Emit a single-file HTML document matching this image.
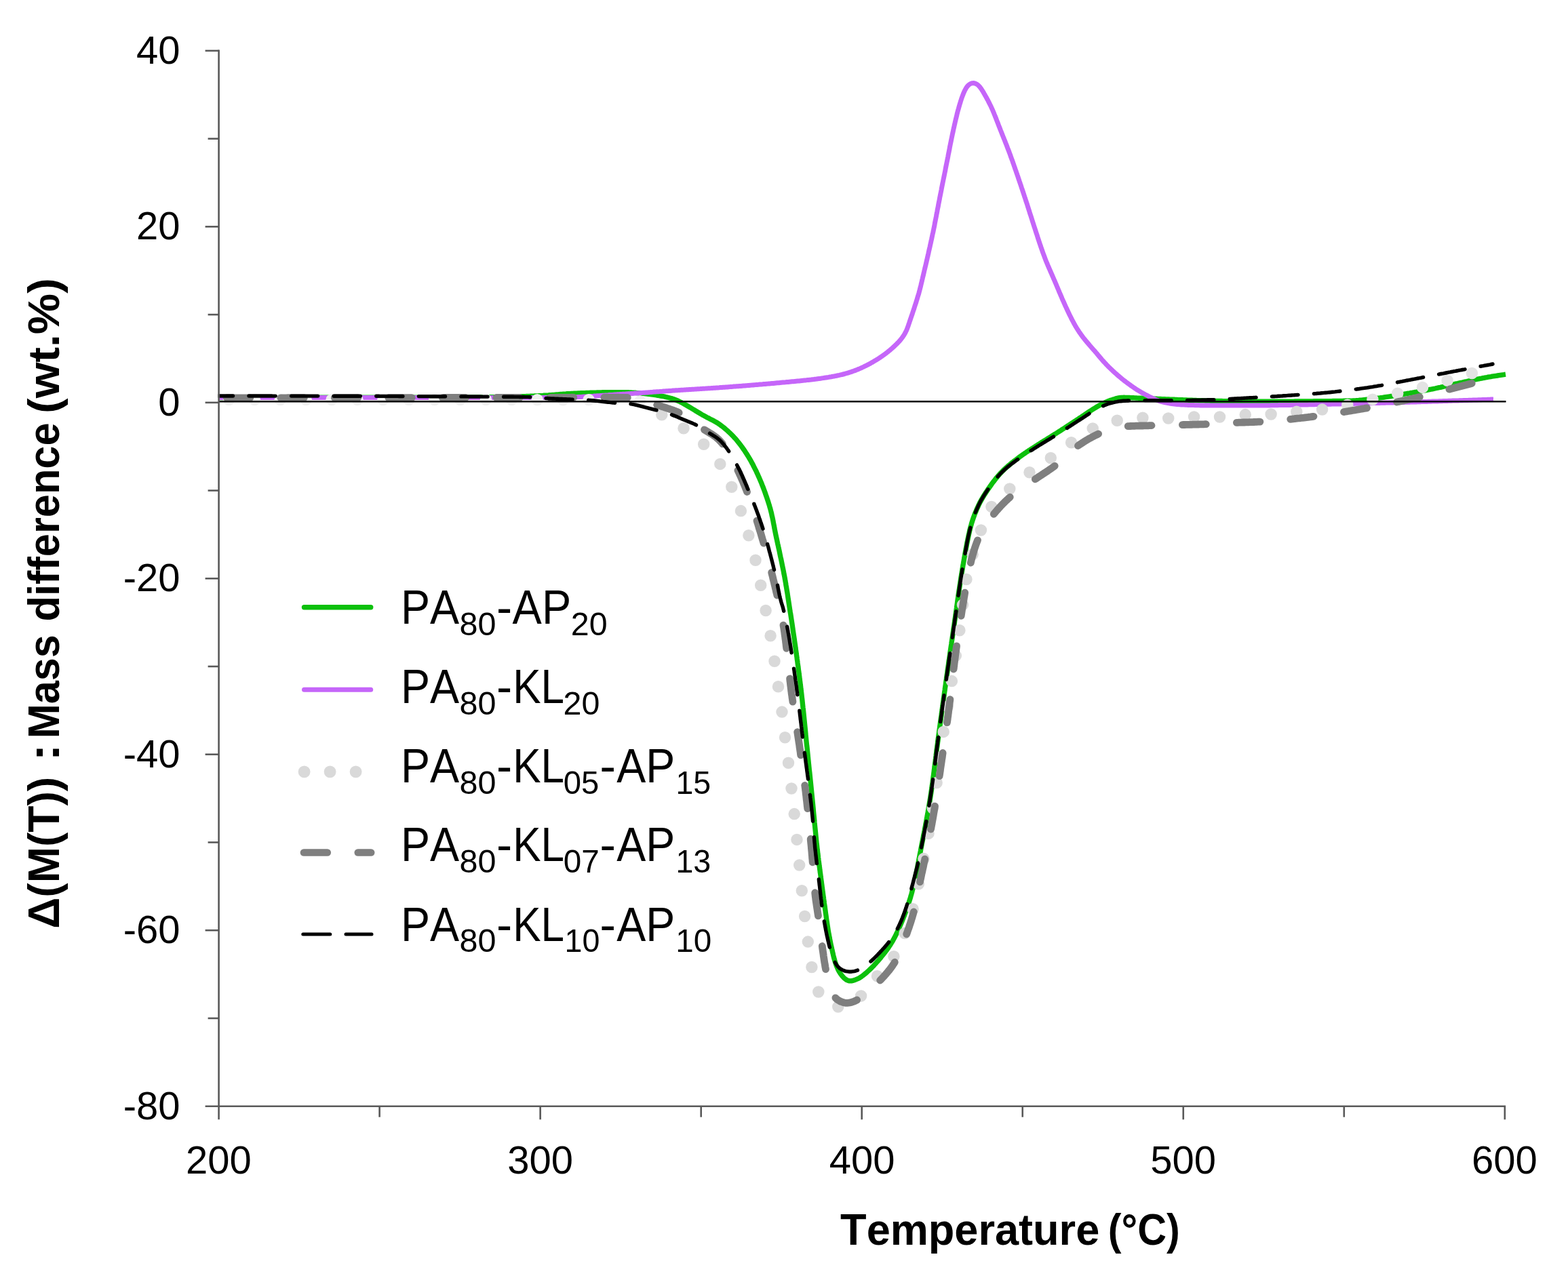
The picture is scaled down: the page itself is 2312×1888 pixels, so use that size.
<!DOCTYPE html>
<html lang="en"><head><meta charset="utf-8"><title>TGA mass difference</title>
<style>html,body{margin:0;padding:0;background:#fff}body{width:2312px;height:1888px;overflow:hidden}</style></head>
<body>
<svg xmlns="http://www.w3.org/2000/svg" width="2312" height="1888" viewBox="0 0 2312 1888" style="display:block;font-family:'Liberation Sans',sans-serif;font-kerning:none">
<rect width="2312" height="1888" fill="#fff"/>
<defs><clipPath id="plot"><rect x="321.4" y="60" width="1901.4" height="1560"/></clipPath><clipPath id="dmid"><rect x="958" y="60" width="1017" height="1560"/></clipPath><clipPath id="dleft"><rect x="300" y="60" width="658" height="1560"/></clipPath><clipPath id="dright"><rect x="1975" y="60" width="265" height="1560"/></clipPath></defs>
<g clip-path="url(#plot)">
<path d="M322.3,586.5L325.1,586.5L326.6,586.5L328.4,586.5L330.3,586.5L332.3,586.5L334.3,586.5L336.3,586.5L338.3,586.5L340.3,586.5L342.3,586.5L344.3,586.5L346.3,586.5L348.3,586.5L350.3,586.5L352.3,586.5L354.3,586.5L356.3,586.5L358.3,586.5L360.3,586.5L362.3,586.5L364.3,586.5L366.3,586.5L368.3,586.5L370.3,586.5L372.3,586.4L374.3,586.4L376.3,586.4L378.3,586.4L380.3,586.4L382.3,586.4L384.3,586.4L386.3,586.4L388.3,586.4L390.3,586.4L392.3,586.4L394.3,586.4L396.3,586.4L398.3,586.4L400.3,586.4L402.3,586.4L404.3,586.4L406.3,586.4L408.3,586.4L410.3,586.4L412.3,586.4L414.4,586.4L416.4,586.4L418.4,586.4L420.4,586.4L422.4,586.4L424.4,586.4L426.4,586.4L428.4,586.4L430.4,586.4L432.4,586.4L434.4,586.4L436.4,586.4L438.4,586.4L440.4,586.4L442.4,586.4L444.4,586.4L446.4,586.4L448.4,586.4L450.4,586.4L452.4,586.4L454.4,586.4L456.4,586.4L458.4,586.4L460.4,586.3L462.4,586.3L464.4,586.3L466.4,586.3L468.4,586.3L470.4,586.3L472.4,586.3L474.4,586.3L476.4,586.3L478.4,586.3L480.4,586.3L482.4,586.3L484.4,586.3L486.4,586.3L488.4,586.3L490.4,586.3L492.4,586.3L494.4,586.3L496.4,586.3L498.4,586.3L500.4,586.3L502.4,586.3L504.4,586.3L506.4,586.3L508.4,586.3L510.4,586.3L512.4,586.3L514.4,586.3L516.4,586.3L518.4,586.3L520.4,586.3L522.4,586.3L524.4,586.3L526.4,586.3L528.4,586.3L530.4,586.3L532.4,586.3L534.4,586.3L536.4,586.3L538.4,586.3L540.4,586.3L542.4,586.3L544.4,586.3L546.4,586.3L548.4,586.2L550.4,586.2L552.4,586.2L554.4,586.2L556.4,586.2L558.4,586.2L560.4,586.2L562.4,586.2L564.4,586.2L566.4,586.2L568.4,586.2L570.4,586.2L572.4,586.2L574.4,586.2L576.4,586.2L578.4,586.2L580.4,586.2L582.4,586.2L584.4,586.2L586.4,586.2L588.4,586.2L590.4,586.2L592.4,586.2L594.5,586.2L596.5,586.2L598.5,586.2L600.5,586.2L602.5,586.2L604.5,586.2L606.5,586.2L608.5,586.2L610.5,586.2L612.5,586.2L614.5,586.2L616.5,586.2L618.5,586.2L620.5,586.2L622.5,586.2L624.5,586.2L626.5,586.2L628.5,586.2L630.5,586.2L632.5,586.2L634.5,586.2L636.5,586.1L638.5,586.1L640.5,586.1L642.5,586.1L644.5,586.1L646.5,586.1L648.5,586.1L650.5,586.1L652.5,586.1L654.5,586.1L656.5,586.1L658.5,586.1L660.5,586.1L662.5,586.1L664.5,586.1L666.5,586.1L668.5,586.1L670.5,586.1L672.5,586.1L674.5,586.1L676.5,586.1L678.5,586.1L680.5,586.1L682.5,586.1L684.5,586.0L686.5,586.0L688.5,586.0L690.5,586.0L692.5,586.0L694.5,586.0L696.5,586.0L698.5,586.0L700.5,586.0L702.5,586.0L704.5,586.0L706.5,586.0L708.5,585.9L710.5,585.9L712.5,585.9L714.5,585.9L716.5,585.9L718.5,585.8L720.5,585.8L722.5,585.8L724.5,585.7L726.5,585.7L728.5,585.7L730.5,585.6L732.5,585.6L734.5,585.6L736.5,585.5L738.5,585.5L740.5,585.4L742.5,585.4L744.5,585.4L746.5,585.3L748.5,585.3L750.5,585.2L752.5,585.2L754.5,585.1L756.5,585.1L758.5,585.0L760.5,585.0L762.5,584.9L764.5,584.9L766.5,584.8L768.5,584.8L770.5,584.7L772.5,584.6L774.5,584.6L776.5,584.5L778.5,584.4L780.5,584.4L782.5,584.3L784.5,584.2L786.5,584.1L788.5,584.0L790.5,583.9L792.5,583.9L794.5,583.8L796.5,583.7L798.5,583.6L800.5,583.5L802.5,583.3L804.5,583.2L806.5,583.1L808.5,583.0L810.5,582.8L812.5,582.7L814.5,582.5L816.5,582.4L818.5,582.2L820.5,582.0L822.5,581.9L824.5,581.7L826.5,581.5L828.5,581.4L830.5,581.2L832.5,581.1L834.5,581.0L836.4,580.8L838.4,580.7L840.4,580.6L842.4,580.5L844.4,580.4L846.4,580.3L848.4,580.2L850.4,580.1L852.4,580.0L854.4,579.9L856.4,579.8L858.4,579.7L860.4,579.6L862.4,579.6L864.4,579.5L866.4,579.4L868.4,579.4L870.4,579.3L872.4,579.2L874.4,579.2L876.4,579.1L878.4,579.1L880.4,579.0L882.4,578.9L884.4,578.9L886.4,578.9L888.4,578.8L890.4,578.8L892.4,578.7L894.4,578.7L896.4,578.7L898.4,578.7L900.4,578.7L902.4,578.7L904.4,578.6L906.4,578.6L908.4,578.6L910.4,578.6L912.4,578.6L914.4,578.6L916.5,578.6L918.5,578.6L920.5,578.6L922.5,578.7L924.5,578.7L926.5,578.8L928.4,578.9L930.4,579.0L932.4,579.1L934.4,579.2L936.4,579.3L938.4,579.5L940.4,579.6L942.4,579.8L944.4,580.0L946.4,580.2L948.4,580.3L950.4,580.5L952.4,580.8L954.4,581.0L956.4,581.3L958.3,581.5L960.3,581.8L962.3,582.1L964.3,582.3L966.3,582.6L968.2,583.0L970.2,583.3L972.2,583.6L974.2,584.0L976.1,584.3L978.1,584.7L980.1,585.1L982.0,585.6L984.0,586.0L985.9,586.5L987.8,587.0L989.8,587.5L991.7,588.1L993.6,588.8L995.4,589.5L997.3,590.2L999.1,591.0L1001.0,591.8L1002.8,592.7L1004.6,593.6L1006.3,594.5L1008.1,595.5L1009.8,596.5L1011.6,597.5L1013.3,598.5L1015.0,599.5L1016.7,600.5L1018.5,601.5L1020.2,602.6L1021.9,603.6L1023.6,604.6L1025.3,605.7L1027.0,606.7L1028.7,607.8L1030.4,608.8L1032.1,609.8L1033.9,610.9L1035.6,611.9L1037.3,612.8L1039.1,613.8L1040.9,614.8L1042.6,615.7L1044.4,616.6L1046.2,617.6L1048.0,618.5L1049.8,619.4L1051.6,620.3L1053.3,621.3L1055.1,622.3L1056.8,623.3L1058.5,624.3L1060.1,625.4L1061.7,626.5L1063.3,627.7L1064.9,628.9L1066.5,630.1L1068.1,631.4L1069.6,632.7L1071.1,634.0L1072.7,635.3L1074.1,636.7L1075.6,638.1L1077.1,639.5L1078.5,640.9L1079.9,642.3L1081.3,643.8L1082.6,645.2L1084.0,646.7L1085.3,648.2L1086.6,649.7L1087.8,651.2L1089.1,652.8L1090.3,654.4L1091.6,656.0L1092.8,657.6L1094.0,659.2L1095.1,660.8L1096.3,662.5L1097.4,664.1L1098.5,665.8L1099.6,667.5L1100.7,669.2L1101.8,670.8L1102.8,672.5L1103.9,674.2L1104.9,676.0L1105.9,677.7L1106.9,679.4L1107.9,681.2L1108.8,683.0L1109.8,684.7L1110.7,686.5L1111.6,688.3L1112.5,690.1L1113.4,691.9L1114.3,693.6L1115.2,695.4L1116.0,697.3L1116.9,699.1L1117.7,700.9L1118.5,702.7L1119.3,704.5L1120.1,706.4L1120.9,708.2L1121.7,710.1L1122.5,711.9L1123.2,713.8L1123.9,715.6L1124.7,717.5L1125.4,719.4L1126.1,721.3L1126.8,723.1L1127.5,725.0L1128.2,726.9L1128.8,728.8L1129.5,730.7L1130.2,732.6L1130.8,734.4L1131.4,736.3L1132.1,738.3L1132.7,740.2L1133.3,742.1L1133.9,744.0L1134.5,745.9L1135.0,747.8L1135.6,749.7L1136.1,751.7L1136.6,753.6L1137.1,755.5L1137.6,757.5L1138.0,759.4L1138.4,761.4L1138.9,763.3L1139.3,765.3L1139.7,767.2L1140.1,769.2L1140.4,771.2L1140.8,773.1L1141.2,775.1L1141.6,777.1L1141.9,779.1L1142.3,781.0L1142.7,783.0L1143.1,785.0L1143.5,786.9L1143.9,788.9L1144.3,790.8L1144.7,792.8L1145.1,794.7L1145.6,796.7L1146.0,798.7L1146.4,800.6L1146.8,802.6L1147.3,804.5L1147.7,806.5L1148.1,808.4L1148.6,810.4L1149.0,812.3L1149.4,814.3L1149.8,816.3L1150.2,818.2L1150.6,820.2L1151.0,822.1L1151.5,824.1L1151.9,826.1L1152.3,828.0L1152.7,830.0L1153.1,831.9L1153.5,833.9L1153.9,835.9L1154.3,837.8L1154.7,839.8L1155.1,841.7L1155.5,843.7L1155.8,845.7L1156.2,847.6L1156.6,849.6L1157.0,851.6L1157.3,853.5L1157.7,855.5L1158.0,857.5L1158.4,859.4L1158.7,861.4L1159.0,863.4L1159.4,865.4L1159.7,867.3L1160.0,869.3L1160.3,871.3L1160.7,873.3L1161.0,875.2L1161.3,877.2L1161.6,879.2L1161.9,881.2L1162.2,883.1L1162.5,885.1L1162.8,887.1L1163.1,889.1L1163.4,891.1L1163.7,893.0L1164.0,895.0L1164.3,897.0L1164.6,899.0L1164.9,900.9L1165.2,902.9L1165.6,904.9L1165.9,906.9L1166.2,908.9L1166.5,910.8L1166.8,912.8L1167.1,914.8L1167.4,916.8L1167.7,918.8L1168.0,920.7L1168.3,922.7L1168.6,924.7L1168.8,926.7L1169.1,928.6L1169.4,930.6L1169.7,932.6L1170.0,934.6L1170.3,936.6L1170.6,938.5L1170.9,940.5L1171.2,942.5L1171.5,944.5L1171.7,946.5L1172.0,948.4L1172.3,950.4L1172.6,952.4L1172.9,954.4L1173.1,956.4L1173.4,958.4L1173.7,960.3L1174.0,962.3L1174.2,964.3L1174.5,966.3L1174.8,968.3L1175.1,970.3L1175.3,972.2L1175.6,974.2L1175.9,976.2L1176.1,978.2L1176.4,980.2L1176.7,982.2L1176.9,984.1L1177.2,986.1L1177.4,988.1L1177.7,990.1L1178.0,992.1L1178.2,994.1L1178.5,996.0L1178.7,998.0L1179.0,1000.0L1179.2,1002.0L1179.5,1004.0L1179.7,1006.0L1180.0,1008.0L1180.2,1009.9L1180.5,1011.9L1180.7,1013.9L1180.9,1015.9L1181.2,1017.9L1181.4,1019.9L1181.6,1021.9L1181.9,1023.9L1182.1,1025.8L1182.3,1027.8L1182.5,1029.8L1182.8,1031.8L1183.0,1033.8L1183.2,1035.8L1183.4,1037.8L1183.6,1039.8L1183.8,1041.7L1184.0,1043.7L1184.3,1045.7L1184.5,1047.7L1184.7,1049.7L1184.9,1051.7L1185.1,1053.7L1185.3,1055.7L1185.5,1057.7L1185.7,1059.7L1185.9,1061.7L1186.1,1063.6L1186.3,1065.6L1186.5,1067.6L1186.7,1069.6L1186.9,1071.6L1187.1,1073.6L1187.3,1075.6L1187.5,1077.6L1187.7,1079.6L1187.8,1081.6L1188.0,1083.6L1188.2,1085.6L1188.4,1087.5L1188.6,1089.5L1188.8,1091.5L1189.0,1093.5L1189.2,1095.5L1189.4,1097.5L1189.6,1099.5L1189.9,1101.5L1190.1,1103.5L1190.3,1105.5L1190.5,1107.5L1190.7,1109.4L1190.9,1111.4L1191.1,1113.4L1191.3,1115.4L1191.5,1117.4L1191.7,1119.4L1191.9,1121.4L1192.1,1123.4L1192.3,1125.4L1192.5,1127.4L1192.7,1129.4L1192.9,1131.3L1193.1,1133.3L1193.3,1135.3L1193.5,1137.3L1193.8,1139.3L1194.0,1141.3L1194.2,1143.3L1194.4,1145.3L1194.6,1147.3L1194.8,1149.3L1195.0,1151.2L1195.2,1153.2L1195.4,1155.2L1195.6,1157.2L1195.8,1159.2L1196.0,1161.2L1196.2,1163.2L1196.4,1165.2L1196.6,1167.2L1196.8,1169.2L1197.0,1171.2L1197.2,1173.1L1197.4,1175.1L1197.6,1177.1L1197.8,1179.1L1198.0,1181.1L1198.2,1183.1L1198.4,1185.1L1198.6,1187.1L1198.8,1189.1L1199.0,1191.1L1199.2,1193.1L1199.3,1195.1L1199.5,1197.0L1199.7,1199.0L1199.9,1201.0L1200.1,1203.0L1200.3,1205.0L1200.5,1207.0L1200.7,1209.0L1200.9,1211.0L1201.0,1213.0L1201.2,1215.0L1201.4,1217.0L1201.6,1219.0L1201.8,1221.0L1202.0,1222.9L1202.2,1224.9L1202.4,1226.9L1202.6,1228.9L1202.8,1230.9L1203.0,1232.9L1203.2,1234.9L1203.4,1236.9L1203.6,1238.9L1203.8,1240.9L1204.0,1242.9L1204.2,1244.8L1204.5,1246.8L1204.7,1248.8L1204.9,1250.8L1205.1,1252.8L1205.4,1254.8L1205.6,1256.8L1205.8,1258.8L1206.1,1260.7L1206.3,1262.7L1206.5,1264.7L1206.8,1266.7L1207.0,1268.7L1207.3,1270.7L1207.5,1272.7L1207.8,1274.6L1208.0,1276.6L1208.3,1278.6L1208.6,1280.6L1208.8,1282.6L1209.1,1284.6L1209.3,1286.6L1209.6,1288.5L1209.9,1290.5L1210.1,1292.5L1210.4,1294.5L1210.6,1296.5L1210.9,1298.5L1211.2,1300.4L1211.4,1302.4L1211.7,1304.4L1211.9,1306.4L1212.2,1308.4L1212.5,1310.4L1212.7,1312.3L1213.0,1314.3L1213.3,1316.3L1213.5,1318.3L1213.8,1320.3L1214.1,1322.3L1214.4,1324.2L1214.6,1326.2L1214.9,1328.2L1215.2,1330.2L1215.4,1332.2L1215.7,1334.2L1216.0,1336.1L1216.3,1338.1L1216.5,1340.1L1216.8,1342.1L1217.1,1344.1L1217.3,1346.1L1217.6,1348.0L1217.9,1350.0L1218.2,1352.0L1218.4,1354.0L1218.7,1356.0L1219.0,1358.0L1219.3,1359.9L1219.6,1361.9L1219.9,1363.9L1220.2,1365.9L1220.5,1367.8L1220.8,1369.8L1221.1,1371.8L1221.4,1373.8L1221.8,1375.7L1222.1,1377.7L1222.5,1379.7L1222.9,1381.6L1223.2,1383.6L1223.6,1385.6L1224.0,1387.5L1224.4,1389.5L1224.8,1391.5L1225.2,1393.4L1225.6,1395.4L1226.1,1397.3L1226.5,1399.3L1226.9,1401.2L1227.4,1403.2L1227.8,1405.2L1228.3,1407.1L1228.7,1409.1L1229.2,1411.0L1229.7,1413.0L1230.2,1414.9L1230.8,1416.8L1231.4,1418.8L1232.0,1420.6L1232.6,1422.5L1233.3,1424.4L1234.1,1426.3L1234.9,1428.1L1235.7,1430.0L1236.6,1431.8L1237.6,1433.6L1238.7,1435.3L1239.8,1436.9L1241.0,1438.5L1242.2,1440.1L1243.6,1441.6L1245.1,1443.0L1246.7,1444.3L1248.3,1445.4L1250.1,1446.2L1251.8,1446.7L1253.7,1446.9L1255.5,1446.8L1257.4,1446.4L1259.3,1445.9L1261.2,1445.2L1263.1,1444.4L1264.9,1443.6L1266.7,1442.7L1268.4,1441.7L1270.1,1440.6L1271.7,1439.4L1273.3,1438.2L1274.9,1436.9L1276.4,1435.6L1278.0,1434.3L1279.5,1432.9L1280.9,1431.6L1282.4,1430.2L1283.9,1428.8L1285.3,1427.4L1286.7,1426.0L1288.1,1424.6L1289.4,1423.1L1290.8,1421.6L1292.1,1420.1L1293.5,1418.6L1294.8,1417.1L1296.1,1415.6L1297.4,1414.0L1298.7,1412.5L1299.9,1410.9L1301.2,1409.4L1302.4,1407.8L1303.7,1406.2L1304.9,1404.7L1306.1,1403.1L1307.3,1401.5L1308.5,1399.8L1309.7,1398.2L1310.8,1396.5L1311.9,1394.9L1313.0,1393.2L1314.0,1391.5L1315.1,1389.8L1316.1,1388.1L1317.1,1386.4L1318.0,1384.6L1319.0,1382.9L1319.9,1381.1L1320.8,1379.3L1321.7,1377.5L1322.6,1375.7L1323.4,1373.9L1324.3,1372.0L1325.1,1370.2L1325.9,1368.4L1326.7,1366.6L1327.5,1364.7L1328.3,1362.9L1329.1,1361.0L1329.9,1359.2L1330.6,1357.3L1331.4,1355.5L1332.1,1353.6L1332.9,1351.8L1333.6,1349.9L1334.3,1348.0L1335.0,1346.1L1335.7,1344.3L1336.3,1342.4L1337.0,1340.5L1337.6,1338.6L1338.3,1336.7L1338.9,1334.8L1339.6,1332.9L1340.2,1331.0L1340.8,1329.1L1341.4,1327.2L1342.0,1325.3L1342.6,1323.4L1343.1,1321.4L1343.7,1319.5L1344.2,1317.6L1344.7,1315.7L1345.2,1313.7L1345.7,1311.8L1346.2,1309.8L1346.7,1307.9L1347.1,1305.9L1347.6,1304.0L1348.0,1302.0L1348.4,1300.1L1348.8,1298.1L1349.2,1296.2L1349.7,1294.2L1350.1,1292.2L1350.5,1290.3L1350.9,1288.3L1351.3,1286.4L1351.7,1284.4L1352.1,1282.4L1352.5,1280.5L1352.8,1278.5L1353.2,1276.5L1353.6,1274.6L1354.0,1272.6L1354.4,1270.7L1354.7,1268.7L1355.1,1266.7L1355.5,1264.8L1355.9,1262.8L1356.2,1260.8L1356.6,1258.9L1357.0,1256.9L1357.4,1254.9L1357.7,1253.0L1358.1,1251.0L1358.5,1249.0L1358.9,1247.1L1359.2,1245.1L1359.6,1243.1L1360.0,1241.2L1360.4,1239.2L1360.8,1237.2L1361.2,1235.3L1361.5,1233.3L1361.9,1231.3L1362.3,1229.4L1362.7,1227.4L1363.1,1225.4L1363.4,1223.5L1363.8,1221.5L1364.2,1219.5L1364.6,1217.6L1364.9,1215.6L1365.3,1213.6L1365.7,1211.7L1366.0,1209.7L1366.4,1207.7L1366.8,1205.8L1367.1,1203.8L1367.5,1201.8L1367.8,1199.9L1368.2,1197.9L1368.5,1195.9L1368.9,1194.0L1369.2,1192.0L1369.5,1190.0L1369.9,1188.0L1370.2,1186.1L1370.5,1184.1L1370.9,1182.1L1371.2,1180.1L1371.5,1178.2L1371.8,1176.2L1372.1,1174.2L1372.4,1172.2L1372.7,1170.3L1373.0,1168.3L1373.3,1166.3L1373.6,1164.3L1373.9,1162.3L1374.1,1160.4L1374.4,1158.4L1374.7,1156.4L1375.0,1154.4L1375.2,1152.4L1375.5,1150.5L1375.8,1148.5L1376.0,1146.5L1376.3,1144.5L1376.6,1142.5L1376.8,1140.5L1377.1,1138.6L1377.3,1136.6L1377.6,1134.6L1377.8,1132.6L1378.1,1130.6L1378.3,1128.6L1378.6,1126.6L1378.8,1124.7L1379.1,1122.7L1379.3,1120.7L1379.6,1118.7L1379.8,1116.7L1380.1,1114.7L1380.3,1112.7L1380.6,1110.8L1380.8,1108.8L1381.1,1106.8L1381.3,1104.8L1381.6,1102.8L1381.9,1100.8L1382.1,1098.8L1382.4,1096.9L1382.6,1094.9L1382.9,1092.9L1383.1,1090.9L1383.4,1088.9L1383.7,1086.9L1383.9,1084.9L1384.2,1083.0L1384.5,1081.0L1384.7,1079.0L1385.0,1077.0L1385.3,1075.0L1385.6,1073.1L1385.8,1071.1L1386.1,1069.1L1386.4,1067.1L1386.6,1065.1L1386.9,1063.1L1387.2,1061.2L1387.4,1059.2L1387.7,1057.2L1388.0,1055.2L1388.2,1053.2L1388.5,1051.2L1388.8,1049.3L1389.1,1047.3L1389.3,1045.3L1389.6,1043.3L1389.9,1041.3L1390.1,1039.3L1390.4,1037.4L1390.7,1035.4L1391.0,1033.4L1391.2,1031.4L1391.5,1029.4L1391.8,1027.4L1392.1,1025.5L1392.3,1023.5L1392.6,1021.5L1392.9,1019.5L1393.2,1017.5L1393.4,1015.6L1393.7,1013.6L1394.0,1011.6L1394.3,1009.6L1394.5,1007.6L1394.8,1005.6L1395.1,1003.7L1395.4,1001.7L1395.6,999.7L1395.9,997.7L1396.2,995.7L1396.5,993.8L1396.8,991.8L1397.0,989.8L1397.3,987.8L1397.6,985.8L1397.9,983.9L1398.2,981.9L1398.5,979.9L1398.7,977.9L1399.0,975.9L1399.3,973.9L1399.6,972.0L1399.9,970.0L1400.2,968.0L1400.5,966.0L1400.7,964.0L1401.0,962.1L1401.3,960.1L1401.6,958.1L1401.9,956.1L1402.2,954.1L1402.5,952.2L1402.8,950.2L1403.0,948.2L1403.3,946.2L1403.6,944.2L1403.9,942.3L1404.2,940.3L1404.5,938.3L1404.8,936.3L1405.1,934.3L1405.4,932.4L1405.6,930.4L1405.9,928.4L1406.2,926.4L1406.5,924.4L1406.8,922.5L1407.1,920.5L1407.4,918.5L1407.6,916.5L1407.9,914.5L1408.2,912.6L1408.5,910.6L1408.8,908.6L1409.1,906.6L1409.3,904.6L1409.6,902.6L1409.9,900.7L1410.2,898.7L1410.5,896.7L1410.7,894.7L1411.0,892.7L1411.3,890.8L1411.6,888.8L1411.8,886.8L1412.1,884.8L1412.4,882.8L1412.7,880.8L1412.9,878.9L1413.2,876.9L1413.5,874.9L1413.8,872.9L1414.1,870.9L1414.4,869.0L1414.7,867.0L1415.0,865.0L1415.3,863.0L1415.6,861.1L1415.9,859.1L1416.2,857.1L1416.5,855.1L1416.8,853.1L1417.1,851.2L1417.4,849.2L1417.8,847.2L1418.1,845.2L1418.4,843.3L1418.7,841.3L1419.0,839.3L1419.4,837.3L1419.7,835.4L1420.0,833.4L1420.4,831.4L1420.7,829.4L1421.1,827.5L1421.4,825.5L1421.8,823.5L1422.1,821.6L1422.5,819.6L1422.8,817.6L1423.2,815.6L1423.5,813.7L1423.9,811.7L1424.2,809.7L1424.6,807.7L1425.0,805.8L1425.3,803.8L1425.7,801.8L1426.1,799.8L1426.5,797.9L1426.9,795.9L1427.3,793.9L1427.7,792.0L1428.1,790.0L1428.5,788.1L1429.0,786.1L1429.4,784.2L1429.9,782.2L1430.3,780.3L1430.8,778.4L1431.3,776.5L1431.9,774.5L1432.4,772.6L1433.0,770.7L1433.6,768.8L1434.2,766.9L1434.9,765.0L1435.5,763.1L1436.2,761.2L1436.9,759.3L1437.6,757.5L1438.4,755.6L1439.2,753.7L1439.9,751.9L1440.7,750.1L1441.6,748.2L1442.4,746.4L1443.2,744.6L1444.1,742.8L1445.0,741.1L1446.0,739.3L1446.9,737.5L1447.9,735.8L1448.9,734.1L1450.0,732.3L1451.0,730.6L1452.1,728.9L1453.2,727.2L1454.3,725.6L1455.4,723.9L1456.5,722.2L1457.6,720.6L1458.8,718.9L1459.9,717.3L1461.1,715.7L1462.2,714.0L1463.4,712.4L1464.6,710.8L1465.9,709.2L1467.1,707.6L1468.3,706.0L1469.6,704.5L1470.9,702.9L1472.2,701.4L1473.5,699.9L1474.8,698.4L1476.2,697.0L1477.6,695.5L1479.0,694.1L1480.4,692.7L1481.8,691.4L1483.3,690.0L1484.8,688.7L1486.3,687.4L1487.8,686.1L1489.4,684.8L1490.9,683.5L1492.5,682.3L1494.1,681.0L1495.7,679.8L1497.3,678.6L1498.9,677.4L1500.5,676.2L1502.1,675.0L1503.7,673.8L1505.3,672.6L1506.9,671.5L1508.6,670.3L1510.2,669.2L1511.9,668.1L1513.5,666.9L1515.2,665.8L1516.9,664.7L1518.6,663.6L1520.2,662.5L1521.9,661.5L1523.6,660.4L1525.3,659.3L1527.0,658.2L1528.7,657.1L1530.3,656.0L1532.0,655.0L1533.7,653.9L1535.4,652.8L1537.1,651.8L1538.8,650.7L1540.5,649.6L1542.2,648.6L1543.9,647.5L1545.6,646.5L1547.3,645.4L1549.0,644.4L1550.7,643.3L1552.4,642.3L1554.1,641.2L1555.8,640.1L1557.5,639.1L1559.2,638.0L1560.9,636.9L1562.6,635.8L1564.2,634.8L1565.9,633.7L1567.6,632.6L1569.3,631.5L1571.0,630.4L1572.6,629.3L1574.3,628.2L1576.0,627.1L1577.6,626.0L1579.3,624.9L1581.0,623.8L1582.7,622.7L1584.3,621.6L1586.0,620.5L1587.7,619.4L1589.4,618.3L1591.0,617.2L1592.7,616.1L1594.4,615.0L1596.0,613.9L1597.7,612.8L1599.4,611.7L1601.0,610.5L1602.7,609.4L1604.3,608.3L1606.0,607.2L1607.7,606.1L1609.4,605.0L1611.1,603.9L1612.7,602.9L1614.5,601.8L1616.2,600.8L1617.9,599.8L1619.6,598.8L1621.4,597.8L1623.2,596.8L1624.9,595.9L1626.7,595.0L1628.5,594.1L1630.3,593.2L1632.2,592.5L1634.0,591.7L1635.9,591.0L1637.7,590.3L1639.6,589.7L1641.6,589.0L1643.5,588.5L1645.4,587.9L1647.4,587.4L1649.4,587.0L1651.3,586.7L1653.3,586.5L1655.3,586.4L1657.3,586.3L1659.2,586.4L1661.2,586.4L1663.2,586.4L1665.2,586.5L1667.2,586.6L1669.2,586.7L1671.2,586.8L1673.3,586.9L1675.3,587.0L1677.3,587.1L1679.3,587.2L1681.3,587.2L1683.3,587.3L1685.3,587.4L1687.3,587.5L1689.3,587.6L1691.3,587.7L1693.3,587.8L1695.3,587.8L1697.3,587.9L1699.3,588.0L1701.3,588.1L1703.3,588.2L1705.3,588.3L1707.3,588.4L1709.3,588.4L1711.3,588.5L1713.3,588.6L1715.3,588.7L1717.3,588.8L1719.3,588.9L1721.3,589.0L1723.3,589.0L1725.3,589.1L1727.3,589.2L1729.3,589.3L1731.3,589.3L1733.3,589.4L1735.3,589.5L1737.3,589.6L1739.3,589.7L1741.3,589.7L1743.3,589.8L1745.3,589.9L1747.3,590.0L1749.3,590.0L1751.3,590.1L1753.3,590.2L1755.3,590.3L1757.3,590.3L1759.3,590.4L1761.3,590.5L1763.3,590.5L1765.3,590.6L1767.3,590.7L1769.3,590.7L1771.3,590.8L1773.3,590.9L1775.3,590.9L1777.3,591.0L1779.3,591.0L1781.3,591.1L1783.3,591.1L1785.3,591.2L1787.3,591.2L1789.3,591.3L1791.3,591.3L1793.3,591.4L1795.3,591.4L1797.3,591.5L1799.3,591.5L1801.3,591.5L1803.3,591.6L1805.3,591.6L1807.3,591.7L1809.3,591.7L1811.3,591.7L1813.3,591.8L1815.3,591.8L1817.3,591.9L1819.3,591.9L1821.3,591.9L1823.3,592.0L1825.3,592.0L1827.3,592.0L1829.3,592.0L1831.3,592.1L1833.3,592.1L1835.3,592.1L1837.3,592.1L1839.3,592.2L1841.3,592.2L1843.3,592.2L1845.3,592.2L1847.3,592.2L1849.3,592.2L1851.3,592.2L1853.3,592.2L1855.3,592.2L1857.3,592.2L1859.3,592.2L1861.3,592.2L1863.3,592.2L1865.3,592.2L1867.3,592.2L1869.3,592.2L1871.3,592.2L1873.3,592.2L1875.3,592.2L1877.3,592.2L1879.3,592.2L1881.3,592.2L1883.3,592.2L1885.3,592.1L1887.3,592.1L1889.3,592.1L1891.3,592.1L1893.3,592.1L1895.3,592.1L1897.3,592.1L1899.3,592.1L1901.3,592.1L1903.3,592.1L1905.3,592.1L1907.3,592.1L1909.3,592.0L1911.4,592.0L1913.4,592.0L1915.4,592.0L1917.4,592.0L1919.4,592.0L1921.4,592.0L1923.4,592.0L1925.4,591.9L1927.4,591.9L1929.4,591.9L1931.4,591.9L1933.4,591.9L1935.4,591.9L1937.4,591.8L1939.4,591.8L1941.4,591.8L1943.4,591.8L1945.4,591.8L1947.4,591.7L1949.4,591.7L1951.4,591.7L1953.4,591.7L1955.4,591.7L1957.4,591.6L1959.4,591.6L1961.4,591.6L1963.4,591.6L1965.4,591.5L1967.4,591.5L1969.4,591.5L1971.4,591.5L1973.4,591.4L1975.4,591.4L1977.4,591.4L1979.4,591.4L1981.4,591.3L1983.4,591.3L1985.4,591.3L1987.4,591.2L1989.4,591.2L1991.4,591.1L1993.3,591.1L1995.3,591.0L1997.3,590.9L1999.3,590.8L2001.3,590.6L2003.3,590.5L2005.3,590.3L2007.3,590.1L2009.3,589.9L2011.3,589.7L2013.3,589.5L2015.3,589.3L2017.3,589.0L2019.3,588.8L2021.3,588.5L2023.3,588.3L2025.2,588.1L2027.2,587.8L2029.2,587.6L2031.2,587.3L2033.2,587.1L2035.2,586.8L2037.1,586.6L2039.1,586.3L2041.1,586.0L2043.1,585.7L2045.1,585.4L2047.0,585.1L2049.0,584.8L2051.0,584.5L2053.0,584.2L2054.9,583.8L2056.9,583.5L2058.9,583.2L2060.9,582.8L2062.8,582.5L2064.8,582.2L2066.8,581.8L2068.8,581.5L2070.7,581.2L2072.7,580.8L2074.7,580.5L2076.7,580.2L2078.6,579.9L2080.6,579.5L2082.6,579.2L2084.6,578.8L2086.5,578.5L2088.5,578.2L2090.5,577.8L2092.4,577.5L2094.4,577.1L2096.4,576.8L2098.4,576.4L2100.3,576.0L2102.3,575.7L2104.3,575.3L2106.2,574.9L2108.2,574.5L2110.1,574.2L2112.1,573.8L2114.1,573.4L2116.0,573.0L2118.0,572.5L2119.9,572.1L2121.9,571.7L2123.8,571.3L2125.8,570.8L2127.8,570.4L2129.7,570.0L2131.7,569.5L2133.6,569.1L2135.6,568.6L2137.5,568.2L2139.5,567.7L2141.4,567.3L2143.4,566.9L2145.3,566.4L2147.3,566.0L2149.2,565.6L2151.2,565.1L2153.1,564.7L2155.1,564.3L2157.1,563.9L2159.0,563.4L2161.0,563.0L2162.9,562.6L2164.9,562.1L2166.8,561.7L2168.8,561.3L2170.7,560.9L2172.7,560.5L2174.7,560.0L2176.6,559.6L2178.6,559.2L2180.5,558.8L2182.5,558.4L2184.5,558.1L2186.4,557.7L2188.4,557.3L2190.4,556.9L2192.3,556.6L2194.3,556.2L2196.3,555.9L2198.2,555.6L2200.2,555.2L2202.2,554.9L2204.2,554.6L2206.1,554.3L2208.1,554.0L2210.1,553.7L2212.0,553.4L2213.9,553.1L2215.7,552.8L2217.3,552.6L2220.0,552.2" fill="none" stroke="#0cc00c" stroke-width="7.4" stroke-linecap="butt" stroke-linejoin="round"/>
<path d="M322.3,586.4L326.0,586.4L327.4,586.4L328.9,586.4L330.6,586.4L332.5,586.4L334.4,586.4L336.3,586.4L338.3,586.4L340.3,586.4L342.3,586.4L344.3,586.4L346.3,586.4L348.3,586.4L350.3,586.4L352.3,586.4L354.3,586.4L356.3,586.4L358.3,586.4L360.3,586.4L362.3,586.4L364.3,586.4L366.3,586.4L368.3,586.4L370.3,586.4L372.3,586.4L374.3,586.4L376.3,586.4L378.3,586.4L380.3,586.4L382.3,586.4L384.3,586.4L386.4,586.4L388.4,586.4L390.4,586.4L392.4,586.4L394.4,586.4L396.4,586.4L398.4,586.4L400.4,586.4L402.4,586.4L404.4,586.4L406.4,586.4L408.4,586.4L410.4,586.4L412.4,586.4L414.4,586.4L416.4,586.4L418.4,586.4L420.4,586.4L422.4,586.4L424.4,586.4L426.4,586.4L428.4,586.4L430.4,586.4L432.4,586.4L434.4,586.4L436.4,586.4L438.4,586.4L440.4,586.4L442.4,586.4L444.4,586.4L446.4,586.4L448.4,586.4L450.4,586.4L452.4,586.4L454.4,586.4L456.4,586.4L458.4,586.4L460.4,586.4L462.4,586.4L464.4,586.4L466.4,586.4L468.4,586.4L470.4,586.4L472.4,586.4L474.4,586.4L476.4,586.4L478.4,586.4L480.4,586.4L482.4,586.4L484.4,586.4L486.4,586.4L488.4,586.4L490.4,586.4L492.4,586.4L494.4,586.4L496.4,586.4L498.4,586.4L500.4,586.4L502.4,586.4L504.4,586.4L506.4,586.4L508.4,586.4L510.4,586.4L512.5,586.4L514.5,586.4L516.5,586.4L518.5,586.4L520.5,586.4L522.5,586.4L524.5,586.4L526.5,586.4L528.5,586.4L530.5,586.4L532.5,586.4L534.5,586.4L536.5,586.4L538.5,586.4L540.5,586.4L542.5,586.4L544.5,586.4L546.5,586.4L548.5,586.4L550.5,586.4L552.5,586.4L554.5,586.4L556.5,586.4L558.5,586.4L560.5,586.4L562.5,586.4L564.5,586.4L566.5,586.4L568.5,586.4L570.5,586.4L572.5,586.4L574.5,586.4L576.5,586.4L578.5,586.4L580.5,586.4L582.5,586.4L584.5,586.4L586.5,586.4L588.5,586.4L590.5,586.4L592.5,586.4L594.5,586.4L596.5,586.4L598.5,586.4L600.5,586.4L602.5,586.4L604.5,586.4L606.5,586.4L608.5,586.4L610.5,586.4L612.5,586.4L614.5,586.4L616.5,586.4L618.5,586.4L620.5,586.4L622.5,586.4L624.5,586.4L626.5,586.4L628.5,586.4L630.5,586.4L632.5,586.4L634.5,586.4L636.6,586.4L638.6,586.4L640.6,586.4L642.6,586.4L644.6,586.4L646.6,586.4L648.6,586.4L650.6,586.4L652.6,586.4L654.6,586.4L656.6,586.4L658.6,586.4L660.6,586.4L662.6,586.4L664.6,586.4L666.6,586.4L668.6,586.4L670.6,586.4L672.6,586.4L674.6,586.4L676.6,586.4L678.6,586.4L680.6,586.4L682.6,586.4L684.6,586.4L686.6,586.4L688.6,586.4L690.6,586.4L692.6,586.4L694.6,586.4L696.6,586.4L698.6,586.4L700.6,586.4L702.6,586.4L704.6,586.4L706.6,586.4L708.6,586.4L710.6,586.4L712.6,586.4L714.6,586.4L716.6,586.4L718.6,586.4L720.6,586.4L722.6,586.4L724.6,586.4L726.6,586.4L728.6,586.4L730.6,586.4L732.6,586.4L734.6,586.4L736.6,586.4L738.6,586.4L740.6,586.4L742.6,586.4L744.6,586.4L746.6,586.4L748.6,586.4L750.6,586.4L752.6,586.4L754.7,586.4L756.7,586.4L758.7,586.4L760.7,586.4L762.7,586.4L764.7,586.4L766.7,586.5L768.7,586.5L770.7,586.5L772.7,586.5L774.7,586.5L776.7,586.5L778.7,586.5L780.7,586.5L782.7,586.5L784.7,586.5L786.7,586.5L788.7,586.5L790.7,586.5L792.7,586.5L794.7,586.5L796.7,586.5L798.7,586.5L800.7,586.5L802.7,586.5L804.7,586.5L806.7,586.5L808.7,586.5L810.7,586.5L812.7,586.5L814.7,586.5L816.7,586.5L818.7,586.5L820.7,586.5L822.7,586.5L824.7,586.5L826.7,586.5L828.7,586.5L830.7,586.4L832.7,586.4L834.7,586.4L836.7,586.3L838.7,586.2L840.7,586.2L842.7,586.1L844.7,586.0L846.7,585.9L848.7,585.8L850.7,585.7L852.7,585.6L854.7,585.5L856.7,585.4L858.7,585.2L860.7,585.1L862.7,585.0L864.7,584.9L866.7,584.8L868.7,584.6L870.7,584.5L872.7,584.4L874.7,584.3L876.7,584.1L878.7,584.0L880.7,583.8L882.7,583.7L884.7,583.6L886.7,583.4L888.7,583.3L890.7,583.2L892.7,583.0L894.7,582.9L896.6,582.8L898.6,582.6L900.6,582.5L902.6,582.4L904.6,582.2L906.6,582.1L908.6,582.0L910.6,581.8L912.6,581.7L914.6,581.6L916.6,581.5L918.6,581.3L920.6,581.2L922.6,581.1L924.6,580.9L926.6,580.8L928.6,580.7L930.6,580.5L932.6,580.4L934.6,580.3L936.6,580.1L938.6,580.0L940.6,579.9L942.6,579.7L944.6,579.6L946.6,579.4L948.6,579.3L950.6,579.2L952.6,579.0L954.6,578.9L956.6,578.7L958.6,578.6L960.6,578.4L962.5,578.3L964.5,578.1L966.5,578.0L968.5,577.8L970.5,577.7L972.5,577.6L974.5,577.4L976.5,577.3L978.5,577.1L980.5,577.0L982.5,576.8L984.5,576.7L986.5,576.5L988.5,576.4L990.5,576.3L992.5,576.1L994.5,576.0L996.5,575.8L998.5,575.7L1000.5,575.6L1002.5,575.4L1004.5,575.3L1006.5,575.2L1008.5,575.1L1010.5,574.9L1012.5,574.8L1014.5,574.7L1016.5,574.5L1018.5,574.4L1020.5,574.3L1022.5,574.2L1024.5,574.1L1026.5,573.9L1028.4,573.8L1030.4,573.7L1032.4,573.6L1034.4,573.4L1036.4,573.3L1038.4,573.2L1040.4,573.1L1042.4,572.9L1044.4,572.8L1046.4,572.7L1048.4,572.6L1050.4,572.4L1052.4,572.3L1054.4,572.2L1056.4,572.0L1058.4,571.9L1060.4,571.8L1062.4,571.6L1064.4,571.5L1066.4,571.3L1068.4,571.2L1070.4,571.0L1072.4,570.9L1074.4,570.7L1076.4,570.6L1078.4,570.4L1080.4,570.3L1082.4,570.1L1084.4,570.0L1086.4,569.8L1088.4,569.7L1090.3,569.5L1092.3,569.4L1094.3,569.2L1096.3,569.0L1098.3,568.9L1100.3,568.7L1102.3,568.6L1104.3,568.4L1106.3,568.2L1108.3,568.1L1110.3,567.9L1112.3,567.7L1114.3,567.6L1116.3,567.4L1118.3,567.3L1120.3,567.1L1122.3,566.9L1124.3,566.8L1126.3,566.6L1128.3,566.4L1130.2,566.2L1132.2,566.1L1134.2,565.9L1136.2,565.7L1138.2,565.5L1140.2,565.4L1142.2,565.2L1144.2,565.0L1146.2,564.8L1148.2,564.7L1150.2,564.5L1152.2,564.3L1154.2,564.1L1156.2,563.9L1158.2,563.8L1160.2,563.6L1162.1,563.4L1164.1,563.2L1166.1,563.0L1168.1,562.8L1170.1,562.7L1172.1,562.5L1174.1,562.3L1176.1,562.1L1178.1,561.9L1180.1,561.7L1182.1,561.5L1184.1,561.3L1186.1,561.1L1188.1,560.9L1190.0,560.6L1192.0,560.4L1194.0,560.2L1196.0,560.0L1198.0,559.7L1200.0,559.5L1202.0,559.2L1203.9,559.0L1205.9,558.7L1207.9,558.4L1209.9,558.2L1211.9,557.9L1213.9,557.6L1215.9,557.3L1217.8,557.0L1219.8,556.7L1221.8,556.4L1223.8,556.0L1225.7,555.7L1227.7,555.3L1229.7,555.0L1231.6,554.6L1233.6,554.2L1235.6,553.8L1237.5,553.4L1239.5,552.9L1241.4,552.5L1243.3,552.0L1245.3,551.5L1247.2,550.9L1249.1,550.4L1251.0,549.8L1253.0,549.2L1254.9,548.6L1256.8,547.9L1258.6,547.3L1260.5,546.6L1262.4,545.9L1264.2,545.1L1266.1,544.4L1267.9,543.6L1269.8,542.8L1271.6,541.9L1273.4,541.1L1275.2,540.2L1277.0,539.3L1278.8,538.4L1280.6,537.5L1282.3,536.6L1284.1,535.6L1285.8,534.6L1287.6,533.6L1289.3,532.6L1291.0,531.6L1292.7,530.5L1294.4,529.5L1296.1,528.4L1297.8,527.3L1299.4,526.1L1301.1,525.0L1302.7,523.8L1304.3,522.7L1305.9,521.5L1307.5,520.2L1309.1,519.0L1310.6,517.7L1312.2,516.5L1313.7,515.2L1315.2,513.9L1316.7,512.5L1318.2,511.2L1319.6,509.8L1321.1,508.4L1322.5,507.0L1323.9,505.5L1325.3,504.1L1326.6,502.6L1327.9,501.1L1329.2,499.5L1330.4,497.9L1331.5,496.3L1332.6,494.7L1333.6,493.0L1334.6,491.2L1335.5,489.5L1336.4,487.7L1337.2,485.8L1337.9,484.0L1338.6,482.1L1339.3,480.2L1339.9,478.3L1340.6,476.4L1341.2,474.5L1341.8,472.7L1342.5,470.8L1343.1,468.9L1343.8,467.0L1344.4,465.1L1345.1,463.2L1345.7,461.3L1346.3,459.4L1347.0,457.5L1347.6,455.6L1348.2,453.7L1348.8,451.8L1349.4,449.9L1350.1,448.0L1350.7,446.1L1351.3,444.1L1351.9,442.2L1352.5,440.3L1353.0,438.4L1353.6,436.5L1354.2,434.6L1354.8,432.7L1355.3,430.7L1355.8,428.8L1356.3,426.9L1356.8,424.9L1357.3,423.0L1357.8,421.0L1358.2,419.1L1358.7,417.1L1359.2,415.2L1359.6,413.2L1360.1,411.3L1360.5,409.4L1361.0,407.4L1361.5,405.5L1361.9,403.5L1362.4,401.6L1362.8,399.6L1363.3,397.7L1363.8,395.7L1364.2,393.8L1364.7,391.8L1365.2,389.9L1365.6,387.9L1366.1,386.0L1366.5,384.0L1367.0,382.1L1367.4,380.1L1367.9,378.2L1368.3,376.2L1368.8,374.3L1369.2,372.3L1369.6,370.4L1370.1,368.4L1370.5,366.5L1371.0,364.5L1371.4,362.6L1371.8,360.6L1372.3,358.6L1372.7,356.7L1373.1,354.7L1373.6,352.8L1374.0,350.8L1374.4,348.9L1374.8,346.9L1375.2,345.0L1375.7,343.0L1376.1,341.0L1376.5,339.1L1376.9,337.1L1377.3,335.2L1377.7,333.2L1378.1,331.2L1378.4,329.3L1378.8,327.3L1379.2,325.3L1379.6,323.4L1380.0,321.4L1380.4,319.4L1380.7,317.5L1381.1,315.5L1381.5,313.5L1381.9,311.6L1382.2,309.6L1382.6,307.6L1383.0,305.7L1383.4,303.7L1383.7,301.7L1384.1,299.8L1384.5,297.8L1384.9,295.9L1385.3,293.9L1385.6,291.9L1386.0,290.0L1386.4,288.0L1386.8,286.0L1387.2,284.1L1387.6,282.1L1388.0,280.1L1388.3,278.2L1388.7,276.2L1389.1,274.3L1389.5,272.3L1389.9,270.3L1390.3,268.4L1390.7,266.4L1391.1,264.4L1391.5,262.5L1391.9,260.5L1392.3,258.5L1392.7,256.6L1393.1,254.6L1393.5,252.7L1393.9,250.7L1394.2,248.7L1394.6,246.8L1395.0,244.8L1395.4,242.8L1395.8,240.9L1396.2,238.9L1396.6,237.0L1397.0,235.0L1397.4,233.0L1397.8,231.1L1398.1,229.1L1398.5,227.1L1398.9,225.2L1399.3,223.2L1399.7,221.2L1400.1,219.3L1400.4,217.3L1400.8,215.3L1401.2,213.4L1401.6,211.4L1402.0,209.5L1402.4,207.5L1402.8,205.5L1403.2,203.6L1403.6,201.6L1404.0,199.7L1404.4,197.7L1404.9,195.7L1405.3,193.8L1405.7,191.8L1406.1,189.9L1406.6,187.9L1407.0,186.0L1407.4,184.0L1407.9,182.1L1408.3,180.1L1408.8,178.2L1409.2,176.2L1409.7,174.3L1410.2,172.3L1410.7,170.4L1411.1,168.4L1411.6,166.5L1412.1,164.5L1412.6,162.6L1413.2,160.7L1413.7,158.8L1414.3,156.8L1414.8,154.9L1415.4,153.0L1416.0,151.1L1416.6,149.1L1417.2,147.2L1417.8,145.3L1418.5,143.4L1419.2,141.6L1419.9,139.7L1420.6,137.8L1421.4,136.0L1422.3,134.1L1423.2,132.3L1424.1,130.6L1425.2,128.9L1426.3,127.4L1427.6,126.0L1428.9,124.8L1430.4,123.8L1431.9,123.1L1433.5,122.7L1435.2,122.6L1436.9,122.8L1438.5,123.4L1440.1,124.2L1441.6,125.2L1443.0,126.4L1444.3,127.8L1445.5,129.3L1446.7,130.9L1447.8,132.6L1448.9,134.3L1449.9,136.0L1450.9,137.8L1451.9,139.5L1452.9,141.3L1453.9,143.0L1454.9,144.8L1455.8,146.6L1456.8,148.3L1457.7,150.1L1458.6,151.9L1459.5,153.7L1460.4,155.5L1461.3,157.3L1462.1,159.1L1462.9,160.9L1463.7,162.7L1464.5,164.6L1465.3,166.4L1466.0,168.3L1466.8,170.1L1467.5,172.0L1468.3,173.8L1469.0,175.7L1469.7,177.6L1470.4,179.4L1471.2,181.3L1471.9,183.2L1472.6,185.1L1473.3,186.9L1474.1,188.8L1474.8,190.7L1475.5,192.5L1476.3,194.4L1477.0,196.2L1477.7,198.1L1478.5,200.0L1479.2,201.8L1480.0,203.7L1480.7,205.5L1481.5,207.4L1482.2,209.3L1482.9,211.1L1483.7,213.0L1484.4,214.8L1485.1,216.7L1485.8,218.6L1486.5,220.4L1487.3,222.3L1488.0,224.2L1488.7,226.1L1489.4,227.9L1490.0,229.8L1490.7,231.7L1491.4,233.6L1492.1,235.5L1492.8,237.3L1493.4,239.2L1494.1,241.1L1494.8,243.0L1495.4,244.9L1496.1,246.8L1496.7,248.7L1497.4,250.6L1498.1,252.5L1498.7,254.4L1499.4,256.2L1500.0,258.1L1500.7,260.0L1501.3,261.9L1501.9,263.8L1502.6,265.7L1503.2,267.6L1503.9,269.5L1504.5,271.4L1505.2,273.3L1505.8,275.2L1506.4,277.1L1507.1,279.0L1507.7,280.9L1508.3,282.8L1509.0,284.7L1509.6,286.6L1510.2,288.5L1510.8,290.4L1511.5,292.3L1512.1,294.2L1512.7,296.1L1513.3,298.0L1514.0,299.9L1514.6,301.8L1515.2,303.7L1515.8,305.6L1516.4,307.5L1517.0,309.4L1517.6,311.3L1518.2,313.2L1518.8,315.2L1519.5,317.1L1520.1,319.0L1520.7,320.9L1521.3,322.8L1521.9,324.7L1522.5,326.6L1523.1,328.5L1523.7,330.4L1524.3,332.3L1524.9,334.2L1525.6,336.1L1526.2,338.0L1526.8,339.9L1527.4,341.8L1528.0,343.7L1528.7,345.6L1529.3,347.6L1529.9,349.5L1530.5,351.4L1531.1,353.3L1531.8,355.2L1532.4,357.1L1533.0,359.0L1533.7,360.9L1534.3,362.8L1535.0,364.7L1535.6,366.6L1536.3,368.4L1536.9,370.3L1537.6,372.2L1538.3,374.1L1539.0,376.0L1539.7,377.8L1540.4,379.7L1541.1,381.6L1541.8,383.4L1542.5,385.3L1543.3,387.2L1544.1,389.0L1544.8,390.8L1545.6,392.7L1546.4,394.5L1547.2,396.4L1548.0,398.2L1548.8,400.0L1549.6,401.9L1550.4,403.7L1551.2,405.5L1552.0,407.4L1552.8,409.2L1553.6,411.1L1554.4,412.9L1555.2,414.7L1556.0,416.6L1556.8,418.4L1557.6,420.3L1558.3,422.1L1559.1,423.9L1559.9,425.8L1560.7,427.6L1561.4,429.5L1562.2,431.3L1563.0,433.2L1563.8,435.0L1564.6,436.9L1565.4,438.7L1566.1,440.5L1566.9,442.4L1567.8,444.2L1568.6,446.0L1569.4,447.9L1570.2,449.7L1571.0,451.5L1571.9,453.3L1572.7,455.1L1573.6,457.0L1574.4,458.8L1575.3,460.6L1576.1,462.4L1577.0,464.2L1577.9,466.0L1578.8,467.8L1579.7,469.6L1580.6,471.4L1581.5,473.1L1582.5,474.9L1583.4,476.7L1584.4,478.4L1585.4,480.2L1586.4,481.9L1587.4,483.6L1588.5,485.3L1589.5,487.0L1590.6,488.6L1591.7,490.3L1592.9,491.9L1594.0,493.6L1595.2,495.2L1596.4,496.8L1597.6,498.4L1598.9,500.0L1600.1,501.5L1601.4,503.1L1602.7,504.6L1604.0,506.1L1605.3,507.6L1606.6,509.2L1607.9,510.7L1609.2,512.2L1610.5,513.7L1611.8,515.2L1613.1,516.7L1614.5,518.2L1615.8,519.8L1617.1,521.3L1618.3,522.8L1619.6,524.4L1620.9,525.9L1622.2,527.4L1623.5,528.9L1624.8,530.5L1626.1,532.0L1627.5,533.5L1628.8,534.9L1630.2,536.4L1631.5,537.9L1632.9,539.3L1634.3,540.7L1635.7,542.1L1637.2,543.5L1638.6,544.9L1640.1,546.3L1641.5,547.7L1643.0,549.0L1644.5,550.4L1646.0,551.7L1647.5,553.0L1649.0,554.4L1650.6,555.6L1652.1,556.9L1653.6,558.2L1655.2,559.5L1656.8,560.7L1658.3,561.9L1659.9,563.1L1661.5,564.4L1663.1,565.5L1664.7,566.7L1666.4,567.9L1668.0,569.1L1669.6,570.2L1671.3,571.4L1673.0,572.5L1674.6,573.6L1676.3,574.7L1678.0,575.8L1679.7,576.8L1681.4,577.8L1683.2,578.9L1684.9,579.8L1686.7,580.8L1688.4,581.8L1690.2,582.7L1692.0,583.6L1693.7,584.6L1695.5,585.5L1697.4,586.3L1699.2,587.2L1701.0,588.1L1702.9,588.9L1704.7,589.7L1706.6,590.4L1708.5,591.1L1710.3,591.8L1712.2,592.4L1714.1,592.9L1716.1,593.4L1718.0,593.8L1719.9,594.2L1721.9,594.6L1723.8,594.9L1725.8,595.3L1727.8,595.5L1729.8,595.8L1731.8,596.0L1733.8,596.2L1735.8,596.4L1737.8,596.6L1739.8,596.7L1741.8,596.9L1743.8,597.0L1745.8,597.1L1747.8,597.2L1749.8,597.3L1751.8,597.4L1753.8,597.4L1755.8,597.5L1757.8,597.6L1759.8,597.6L1761.8,597.7L1763.8,597.8L1765.8,597.8L1767.8,597.8L1769.8,597.9L1771.8,597.9L1773.8,597.9L1775.8,598.0L1777.8,598.0L1779.8,598.0L1781.8,598.0L1783.8,598.0L1785.8,598.0L1787.8,598.0L1789.8,598.0L1791.8,598.0L1793.8,598.0L1795.8,598.0L1797.8,598.0L1799.8,598.0L1801.8,598.0L1803.8,598.0L1805.8,598.0L1807.8,598.0L1809.8,598.0L1811.8,598.0L1813.8,598.0L1815.8,598.0L1817.8,598.0L1819.8,598.0L1821.8,598.0L1823.8,598.0L1825.8,598.0L1827.8,598.0L1829.8,598.0L1831.8,598.0L1833.8,598.0L1835.8,598.0L1837.8,598.0L1839.8,598.0L1841.8,598.0L1843.8,598.0L1845.8,598.0L1847.8,598.0L1849.8,598.0L1851.8,598.0L1853.8,598.0L1855.8,598.0L1857.8,598.0L1859.9,598.0L1861.9,598.0L1863.9,597.9L1865.9,597.9L1867.9,597.9L1869.9,597.9L1871.9,597.9L1873.9,597.8L1875.9,597.8L1877.9,597.8L1879.9,597.7L1881.9,597.7L1883.9,597.7L1885.9,597.6L1887.9,597.6L1889.9,597.6L1891.9,597.5L1893.9,597.5L1895.9,597.5L1897.9,597.4L1899.9,597.4L1901.9,597.4L1903.9,597.3L1905.9,597.3L1907.9,597.3L1909.9,597.2L1911.9,597.2L1913.9,597.1L1915.9,597.1L1917.9,597.1L1919.9,597.0L1921.9,597.0L1923.9,597.0L1925.9,596.9L1927.9,596.9L1929.9,596.8L1931.9,596.8L1933.9,596.8L1935.9,596.7L1937.9,596.7L1939.9,596.6L1941.9,596.6L1943.9,596.6L1945.9,596.5L1947.9,596.5L1949.9,596.4L1951.9,596.4L1953.9,596.3L1955.9,596.3L1957.9,596.3L1959.9,596.2L1961.9,596.2L1963.9,596.1L1965.9,596.1L1967.9,596.0L1969.9,596.0L1971.9,595.9L1973.9,595.9L1975.9,595.9L1977.9,595.8L1979.9,595.8L1981.9,595.7L1983.9,595.7L1985.9,595.6L1987.9,595.6L1989.9,595.5L1991.9,595.5L1993.9,595.4L1995.9,595.4L1997.9,595.3L1999.9,595.3L2001.9,595.2L2003.9,595.2L2005.9,595.1L2007.9,595.1L2009.9,595.0L2011.9,595.0L2013.9,594.9L2015.9,594.9L2017.9,594.8L2019.9,594.8L2021.9,594.7L2023.9,594.7L2025.9,594.6L2027.9,594.6L2030.0,594.5L2032.0,594.4L2034.0,594.4L2036.0,594.3L2038.0,594.3L2040.0,594.2L2042.0,594.2L2044.0,594.1L2046.0,594.1L2048.0,594.0L2050.0,594.0L2052.0,593.9L2054.0,593.9L2056.0,593.8L2058.0,593.7L2060.0,593.7L2062.0,593.6L2064.0,593.6L2066.0,593.5L2068.0,593.5L2070.0,593.4L2072.0,593.3L2074.0,593.3L2076.0,593.2L2078.0,593.2L2080.0,593.1L2082.0,593.0L2084.0,593.0L2086.0,592.9L2088.0,592.9L2090.0,592.8L2092.0,592.7L2094.0,592.7L2096.0,592.6L2098.0,592.6L2100.0,592.5L2102.0,592.4L2104.0,592.4L2106.0,592.3L2108.0,592.2L2110.0,592.2L2112.0,592.1L2114.0,592.1L2116.0,592.0L2118.0,591.9L2120.0,591.9L2122.0,591.8L2124.0,591.7L2126.0,591.7L2128.0,591.6L2130.0,591.5L2132.0,591.5L2134.0,591.4L2136.0,591.3L2138.0,591.3L2140.0,591.2L2142.0,591.1L2144.0,591.1L2146.0,591.0L2148.0,590.9L2150.0,590.9L2152.0,590.8L2154.0,590.7L2156.0,590.7L2158.0,590.6L2160.0,590.5L2162.0,590.5L2164.0,590.4L2166.0,590.3L2168.0,590.2L2170.0,590.2L2172.0,590.1L2174.0,590.0L2176.0,590.0L2178.0,589.9L2180.0,589.8L2182.0,589.7L2184.0,589.7L2186.0,589.6L2188.0,589.5L2189.9,589.4L2191.8,589.4L2193.7,589.3L2195.4,589.2L2196.9,589.2L2198.3,589.1L2202.0,589.0" fill="none" stroke="#c566f9" stroke-width="7.0" stroke-linecap="butt" stroke-linejoin="round"/>
<g clip-path="url(#dmid)"><path d="M337.5,589.6h0M375.4,589.6h0M413.3,589.6h0M451.2,589.6h0M489.1,589.6h0M527.0,589.6h0M564.9,589.6h0M602.8,589.6h0M640.7,589.6h0M678.6,589.6h0M716.5,589.6h0M754.4,589.6h0M792.3,589.7h0M830.2,589.7h0M868.1,589.7h0M906.0,589.8h0M943.8,591.9h0M975.8,611.8h0M1008.0,631.7h0M1037.7,655.2h0M1061.8,684.4h0M1078.8,718.2h0M1092.4,753.6h0M1103.9,789.7h0M1114.0,826.2h0M1121.7,863.3h0M1129.1,900.5h0M1136.1,937.7h0M1142.0,975.2h0M1147.5,1012.7h0M1153.0,1050.1h0M1157.5,1087.8h0M1162.5,1125.3h0M1167.0,1163.0h0M1171.2,1200.6h0M1175.0,1238.4h0M1178.7,1276.1h0M1182.3,1313.8h0M1186.6,1351.5h0M1191.3,1389.1h0M1196.9,1426.5h0M1206.8,1463.0h0M1235.8,1485.0h0M1269.6,1469.0h0M1293.5,1439.8h0M1317.9,1410.8h0M1334.0,1376.6h0M1346.1,1340.7h0M1354.4,1303.7h0M1362.0,1266.6h0M1369.0,1229.4h0M1375.3,1192.0h0M1381.1,1154.5h0M1386.1,1117.0h0M1391.2,1079.4h0M1397.2,1042.0h0M1403.4,1004.6h0M1409.3,967.1h0M1414.9,929.7h0M1419.5,892.1h0M1424.9,854.5h0M1434.1,817.8h0M1446.4,782.0h0M1461.9,747.4h0M1488.8,721.0h0M1518.0,696.8h0M1549.3,675.5h0M1579.6,652.8h0M1611.2,631.9h0M1647.2,620.3h0M1684.9,616.3h0M1722.7,617.0h0M1760.6,615.0h0M1798.5,615.0h0M1836.2,611.6h0M1874.1,611.0h0M1911.8,607.2h0M1949.6,604.1h0M1986.8,597.2h0M2023.9,589.3h0M2060.7,580.3h0M2097.5,571.4h0M2134.1,561.3h0M2170.4,550.5h0" fill="none" stroke="#d9d9d9" stroke-width="17.5" stroke-linecap="round" stroke-linejoin="round"/></g>
<g clip-path="url(#dleft)"><path d="M337.5,589.6h0M375.4,589.6h0M413.3,589.6h0M451.2,589.6h0M489.1,589.6h0M527.0,589.6h0M564.9,589.6h0M602.8,589.6h0M640.7,589.6h0M678.6,589.6h0M716.5,589.6h0M754.4,589.6h0M792.3,589.7h0M830.2,589.7h0M868.1,589.7h0M906.0,589.8h0M943.8,591.9h0M975.8,611.8h0M1008.0,631.7h0M1037.7,655.2h0M1061.8,684.4h0M1078.8,718.2h0M1092.4,753.6h0M1103.9,789.7h0M1114.0,826.2h0M1121.7,863.3h0M1129.1,900.5h0M1136.1,937.7h0M1142.0,975.2h0M1147.5,1012.7h0M1153.0,1050.1h0M1157.5,1087.8h0M1162.5,1125.3h0M1167.0,1163.0h0M1171.2,1200.6h0M1175.0,1238.4h0M1178.7,1276.1h0M1182.3,1313.8h0M1186.6,1351.5h0M1191.3,1389.1h0M1196.9,1426.5h0M1206.8,1463.0h0M1235.8,1485.0h0M1269.6,1469.0h0M1293.5,1439.8h0M1317.9,1410.8h0M1334.0,1376.6h0M1346.1,1340.7h0M1354.4,1303.7h0M1362.0,1266.6h0M1369.0,1229.4h0M1375.3,1192.0h0M1381.1,1154.5h0M1386.1,1117.0h0M1391.2,1079.4h0M1397.2,1042.0h0M1403.4,1004.6h0M1409.3,967.1h0M1414.9,929.7h0M1419.5,892.1h0M1424.9,854.5h0M1434.1,817.8h0M1446.4,782.0h0M1461.9,747.4h0M1488.8,721.0h0M1518.0,696.8h0M1549.3,675.5h0M1579.6,652.8h0M1611.2,631.9h0M1647.2,620.3h0M1684.9,616.3h0M1722.7,617.0h0M1760.6,615.0h0M1798.5,615.0h0M1836.2,611.6h0M1874.1,611.0h0M1911.8,607.2h0M1949.6,604.1h0M1986.8,597.2h0M2023.9,589.3h0M2060.7,580.3h0M2097.5,571.4h0M2134.1,561.3h0M2170.4,550.5h0" fill="none" stroke="#f0f0f0" stroke-width="17.5" stroke-linecap="round" stroke-linejoin="round"/></g>
<g clip-path="url(#dright)"><path d="M337.5,589.6h0M375.4,589.6h0M413.3,589.6h0M451.2,589.6h0M489.1,589.6h0M527.0,589.6h0M564.9,589.6h0M602.8,589.6h0M640.7,589.6h0M678.6,589.6h0M716.5,589.6h0M754.4,589.6h0M792.3,589.7h0M830.2,589.7h0M868.1,589.7h0M906.0,589.8h0M943.8,591.9h0M975.8,611.8h0M1008.0,631.7h0M1037.7,655.2h0M1061.8,684.4h0M1078.8,718.2h0M1092.4,753.6h0M1103.9,789.7h0M1114.0,826.2h0M1121.7,863.3h0M1129.1,900.5h0M1136.1,937.7h0M1142.0,975.2h0M1147.5,1012.7h0M1153.0,1050.1h0M1157.5,1087.8h0M1162.5,1125.3h0M1167.0,1163.0h0M1171.2,1200.6h0M1175.0,1238.4h0M1178.7,1276.1h0M1182.3,1313.8h0M1186.6,1351.5h0M1191.3,1389.1h0M1196.9,1426.5h0M1206.8,1463.0h0M1235.8,1485.0h0M1269.6,1469.0h0M1293.5,1439.8h0M1317.9,1410.8h0M1334.0,1376.6h0M1346.1,1340.7h0M1354.4,1303.7h0M1362.0,1266.6h0M1369.0,1229.4h0M1375.3,1192.0h0M1381.1,1154.5h0M1386.1,1117.0h0M1391.2,1079.4h0M1397.2,1042.0h0M1403.4,1004.6h0M1409.3,967.1h0M1414.9,929.7h0M1419.5,892.1h0M1424.9,854.5h0M1434.1,817.8h0M1446.4,782.0h0M1461.9,747.4h0M1488.8,721.0h0M1518.0,696.8h0M1549.3,675.5h0M1579.6,652.8h0M1611.2,631.9h0M1647.2,620.3h0M1684.9,616.3h0M1722.7,617.0h0M1760.6,615.0h0M1798.5,615.0h0M1836.2,611.6h0M1874.1,611.0h0M1911.8,607.2h0M1949.6,604.1h0M1986.8,597.2h0M2023.9,589.3h0M2060.7,580.3h0M2097.5,571.4h0M2134.1,561.3h0M2170.4,550.5h0" fill="none" stroke="#e3e3e3" stroke-width="17.5" stroke-linecap="round" stroke-linejoin="round"/></g>
<path d="M334.3,586.8L334.3,586.8L336.3,586.8L338.3,586.8L340.3,586.8L342.3,586.8L344.3,586.8L346.3,586.8L348.3,586.8L350.3,586.8L352.3,586.8L354.3,586.8L356.3,586.8L358.3,586.8L360.3,586.8L362.3,586.8L364.3,586.8L366.3,586.8L368.3,586.8L368.8,586.8M413.8,586.8L414.3,586.8L416.3,586.8L418.3,586.8L420.3,586.8L422.3,586.8L424.3,586.7L426.3,586.7L428.3,586.7L430.3,586.7L432.3,586.7L434.3,586.7L436.3,586.7L438.4,586.7L440.4,586.7L442.4,586.7L444.4,586.7L446.4,586.7L448.3,586.7M493.3,586.7L494.4,586.7L496.4,586.7L498.4,586.7L500.4,586.7L502.4,586.7L504.4,586.7L506.4,586.7L508.4,586.7L510.4,586.7L512.4,586.7L514.4,586.7L516.4,586.7L518.4,586.7L520.4,586.7L522.4,586.7L524.4,586.7L526.4,586.7L527.8,586.7M572.8,586.6L574.4,586.6L576.4,586.6L578.4,586.6L580.4,586.6L582.4,586.6L584.4,586.6L586.4,586.6L588.4,586.6L590.4,586.6L592.4,586.6L594.4,586.6L596.4,586.6L598.4,586.6L600.4,586.6L602.4,586.6L604.4,586.6L606.4,586.6L607.3,586.6M652.3,586.6L652.4,586.6L654.4,586.5L656.4,586.5L658.4,586.5L660.4,586.5L662.4,586.5L664.4,586.5L666.4,586.5L668.4,586.5L670.5,586.5L672.5,586.5L674.5,586.5L676.5,586.5L678.5,586.5L680.5,586.5L682.5,586.5L684.5,586.5L686.5,586.5L686.8,586.5M731.8,586.5L732.5,586.5L734.5,586.5L736.5,586.4L738.5,586.4L740.5,586.4L742.5,586.4L744.5,586.4L746.5,586.4L748.5,586.4L750.5,586.4L752.5,586.4L754.5,586.4L756.5,586.4L758.5,586.4L760.5,586.4L762.5,586.4L764.5,586.4L766.3,586.4M811.3,586.3L812.5,586.3L814.5,586.3L816.5,586.3L818.5,586.3L820.5,586.3L822.5,586.3L824.5,586.3L826.5,586.3L828.5,586.3L830.5,586.3L832.5,586.3L834.5,586.3L836.5,586.3L838.5,586.3L840.5,586.3L842.5,586.2L844.5,586.2L845.8,586.2M890.8,586.2L892.5,586.2L894.5,586.2L896.5,586.2L898.5,586.2L900.6,586.2L902.6,586.2L904.6,586.2L906.6,586.2L908.6,586.2L910.6,586.2L912.6,586.2L914.6,586.3L916.6,586.3L918.6,586.3L920.6,586.3L922.6,586.3L924.6,586.4L925.3,586.4M968.7,597.3L969.0,597.4L970.9,598.0L972.8,598.6L974.7,599.2L976.6,599.8L978.5,600.4L980.4,601.0L982.3,601.6L984.2,602.3L986.1,602.9L988.0,603.6L989.9,604.2L991.8,604.9L993.7,605.6L995.6,606.3L997.4,607.0L999.3,607.8L1001.1,608.6L1001.2,608.7M1038.5,633.8L1039.3,634.3L1041.1,635.4L1042.8,636.5L1044.6,637.5L1046.3,638.6L1048.1,639.7L1049.8,640.7L1051.5,641.9L1053.1,643.0L1054.7,644.1L1056.2,645.3L1057.7,646.6L1059.1,647.8L1060.4,649.1L1061.7,650.5L1063.0,651.9L1064.2,653.3L1065.5,654.8L1065.5,654.9M1087.9,693.8L1088.6,695.3L1089.5,697.1L1090.3,699.0L1091.2,700.8L1092.0,702.6L1092.8,704.5L1093.6,706.3L1094.4,708.1L1095.2,709.9L1096.0,711.7L1096.7,713.6L1097.5,715.4L1098.3,717.2L1099.0,719.1L1099.7,720.9L1100.5,722.8L1101.2,724.6L1101.5,725.5M1116.0,768.1L1116.1,768.4L1116.7,770.3L1117.3,772.2L1117.9,774.1L1118.5,776.0L1119.0,778.0L1119.6,779.9L1120.2,781.8L1120.8,783.7L1121.4,785.6L1122.0,787.5L1122.5,789.4L1123.1,791.4L1123.7,793.3L1124.2,795.2L1124.8,797.1L1125.4,799.0L1125.9,800.9L1126.0,801.1M1137.7,844.5L1137.9,845.4L1138.4,847.3L1138.9,849.3L1139.4,851.2L1139.8,853.2L1140.3,855.1L1140.8,857.1L1141.3,859.0L1141.7,860.9L1142.2,862.9L1142.7,864.8L1143.1,866.8L1143.6,868.7L1144.1,870.7L1144.5,872.6L1145.0,874.6L1145.5,876.5L1145.8,878.1M1155.0,922.1L1155.2,923.5L1155.6,925.5L1155.9,927.5L1156.2,929.4L1156.5,931.4L1156.8,933.4L1157.0,935.4L1157.3,937.4L1157.6,939.3L1157.8,941.3L1158.1,943.3L1158.4,945.3L1158.6,947.3L1158.9,949.2L1159.1,951.2L1159.3,953.2L1159.6,955.2L1159.7,956.3M1164.6,1001.0L1164.8,1003.0L1165.0,1005.0L1165.3,1007.0L1165.5,1008.9L1165.7,1010.9L1166.0,1012.9L1166.2,1014.9L1166.5,1016.9L1166.7,1018.9L1167.0,1020.9L1167.2,1022.9L1167.5,1024.8L1167.8,1026.8L1168.0,1028.8L1168.3,1030.8L1168.6,1032.8L1168.9,1034.7L1168.9,1035.2M1175.7,1079.7L1175.8,1080.2L1176.1,1082.2L1176.4,1084.2L1176.7,1086.2L1177.0,1088.2L1177.3,1090.1L1177.6,1092.1L1177.9,1094.1L1178.2,1096.1L1178.5,1098.0L1178.8,1100.0L1179.0,1102.0L1179.3,1104.0L1179.6,1106.0L1179.9,1108.0L1180.2,1109.9L1180.4,1111.9L1180.7,1113.9M1186.7,1158.5L1186.9,1159.5L1187.1,1161.5L1187.4,1163.5L1187.6,1165.5L1187.9,1167.5L1188.1,1169.4L1188.3,1171.4L1188.6,1173.4L1188.8,1175.4L1189.0,1177.4L1189.2,1179.4L1189.5,1181.4L1189.7,1183.3L1189.9,1185.3L1190.1,1187.3L1190.3,1189.3L1190.6,1191.3L1190.7,1192.7M1195.2,1237.5L1195.3,1239.1L1195.5,1241.1L1195.7,1243.1L1195.9,1245.1L1196.1,1247.1L1196.3,1249.1L1196.4,1251.0L1196.6,1253.0L1196.8,1255.0L1197.0,1257.0L1197.1,1259.0L1197.3,1261.0L1197.5,1263.0L1197.6,1265.0L1197.8,1267.0L1198.0,1269.0L1198.1,1271.0L1198.2,1271.9M1201.7,1316.7L1201.7,1316.9L1201.9,1318.9L1202.1,1320.9L1202.3,1322.8L1202.6,1324.8L1202.8,1326.8L1203.1,1328.8L1203.4,1330.8L1203.7,1332.7L1204.0,1334.7L1204.3,1336.7L1204.6,1338.7L1204.9,1340.6L1205.2,1342.6L1205.5,1344.6L1205.8,1346.6L1206.1,1348.6L1206.4,1350.5L1206.4,1350.9M1212.3,1395.5L1212.4,1396.2L1212.6,1398.2L1212.9,1400.1L1213.2,1402.1L1213.5,1404.1L1213.8,1406.1L1214.1,1408.1L1214.3,1410.1L1214.6,1412.0L1214.9,1414.0L1215.2,1416.0L1215.5,1418.0L1215.8,1420.0L1216.2,1421.9L1216.5,1423.9L1216.8,1425.9L1217.2,1427.8L1217.5,1429.6M1231.9,1471.8L1232.9,1472.9L1234.3,1474.1L1235.8,1475.2L1237.5,1476.2L1239.3,1477.1L1241.2,1477.8L1243.1,1478.5L1245.1,1479.0L1247.1,1479.3L1249.1,1479.4L1251.0,1479.2L1253.0,1478.9L1254.9,1478.5L1256.8,1477.9L1258.7,1477.2L1260.6,1476.4L1262.5,1475.6L1263.6,1475.0M1297.7,1446.0L1299.1,1444.6L1300.5,1443.1L1301.9,1441.6L1303.3,1440.1L1304.6,1438.6L1306.0,1437.1L1307.3,1435.5L1308.6,1434.0L1309.9,1432.4L1311.2,1430.9L1312.4,1429.3L1313.6,1427.7L1314.8,1426.1L1315.9,1424.5L1317.0,1422.8L1318.1,1421.2L1319.1,1419.5L1319.3,1419.2M1336.7,1377.8L1336.9,1377.2L1337.6,1375.3L1338.3,1373.4L1338.9,1371.5L1339.6,1369.7L1340.3,1367.8L1340.9,1365.9L1341.5,1364.0L1342.2,1362.1L1342.8,1360.2L1343.4,1358.3L1344.0,1356.3L1344.6,1354.4L1345.2,1352.5L1345.7,1350.6L1346.3,1348.7L1346.8,1346.7L1347.3,1345.0M1356.5,1300.9L1356.7,1299.8L1357.1,1297.8L1357.6,1295.9L1358.0,1293.9L1358.4,1291.9L1358.8,1290.0L1359.2,1288.0L1359.7,1286.1L1360.1,1284.1L1360.5,1282.2L1361.0,1280.2L1361.4,1278.3L1361.8,1276.3L1362.2,1274.3L1362.6,1272.4L1363.1,1270.4L1363.5,1268.5L1363.7,1267.2M1372.5,1223.1L1372.9,1221.4L1373.2,1219.4L1373.6,1217.4L1374.0,1215.5L1374.3,1213.5L1374.7,1211.5L1375.0,1209.6L1375.4,1207.6L1375.7,1205.6L1376.1,1203.7L1376.4,1201.7L1376.7,1199.7L1377.1,1197.7L1377.4,1195.8L1377.7,1193.8L1378.1,1191.8L1378.4,1189.8L1378.5,1189.1M1385.2,1144.6L1385.2,1144.3L1385.5,1142.4L1385.8,1140.4L1386.1,1138.4L1386.4,1136.4L1386.6,1134.4L1386.9,1132.4L1387.2,1130.5L1387.5,1128.5L1387.8,1126.5L1388.1,1124.5L1388.4,1122.5L1388.6,1120.6L1388.9,1118.6L1389.2,1116.6L1389.5,1114.6L1389.8,1112.6L1390.1,1110.7L1390.1,1110.5M1396.4,1065.9L1396.5,1065.1L1396.8,1063.1L1397.1,1061.1L1397.3,1059.1L1397.6,1057.2L1397.9,1055.2L1398.1,1053.2L1398.4,1051.2L1398.6,1049.2L1398.9,1047.2L1399.2,1045.3L1399.4,1043.3L1399.7,1041.3L1399.9,1039.3L1400.2,1037.3L1400.4,1035.3L1400.7,1033.4L1400.9,1031.7M1406.1,987.0L1406.3,985.7L1406.5,983.7L1406.8,981.7L1407.0,979.7L1407.2,977.7L1407.5,975.7L1407.7,973.7L1408.0,971.8L1408.3,969.8L1408.5,967.8L1408.8,965.8L1409.0,963.8L1409.3,961.8L1409.6,959.9L1409.8,957.9L1410.1,955.9L1410.4,953.9L1410.5,952.8M1417.2,908.3L1417.5,906.4L1417.8,904.4L1418.1,902.5L1418.4,900.5L1418.7,898.5L1419.1,896.5L1419.4,894.6L1419.7,892.6L1420.0,890.6L1420.4,888.6L1420.7,886.6L1421.0,884.7L1421.3,882.7L1421.6,880.7L1422.0,878.7L1422.3,876.7L1422.6,874.8L1422.7,874.2M1431.3,830.1L1431.4,829.6L1431.9,827.7L1432.3,825.7L1432.8,823.8L1433.3,821.9L1433.9,819.9L1434.4,818.0L1435.0,816.1L1435.5,814.1L1436.1,812.2L1436.7,810.3L1437.3,808.3L1438.0,806.4L1438.6,804.5L1439.3,802.6L1440.0,800.7L1440.7,798.8L1441.4,797.0L1441.5,796.8M1465.3,758.3L1465.5,758.0L1466.8,756.5L1468.1,755.0L1469.3,753.5L1470.6,752.0L1472.0,750.5L1473.3,749.0L1474.7,747.5L1476.0,746.0L1477.4,744.6L1478.8,743.1L1480.2,741.7L1481.7,740.3L1483.1,738.9L1484.6,737.5L1486.1,736.1L1487.5,734.8L1489.0,733.5L1489.3,733.2M1526.3,706.8L1526.4,706.7L1528.1,705.6L1529.8,704.5L1531.4,703.4L1533.1,702.3L1534.8,701.2L1536.4,700.1L1538.1,699.0L1539.8,697.9L1541.5,696.8L1543.1,695.7L1544.8,694.6L1546.5,693.4L1548.1,692.3L1549.8,691.2L1551.4,690.0L1553.0,688.9L1554.6,687.7L1555.2,687.3M1589.5,657.5L1591.0,656.4L1592.7,655.3L1594.3,654.2L1596.0,653.1L1597.7,652.0L1599.4,650.9L1601.1,649.9L1602.8,648.8L1604.5,647.8L1606.3,646.8L1608.0,645.9L1609.8,644.9L1611.6,644.0L1613.4,643.0L1615.2,642.1L1617.0,641.3L1618.8,640.4L1619.6,640.0M1663.2,628.7L1664.9,628.6L1666.9,628.5L1668.9,628.4L1670.9,628.4L1672.9,628.3L1674.9,628.2L1676.9,628.2L1678.9,628.1L1680.9,628.0L1682.9,628.0L1684.9,628.0L1686.9,627.9L1688.9,627.9L1690.9,627.8L1692.9,627.8L1694.9,627.7L1696.9,627.7L1698.0,627.6M1743.4,626.6L1744.9,626.5L1746.9,626.5L1748.9,626.4L1750.9,626.4L1752.9,626.3L1754.9,626.3L1756.9,626.3L1758.9,626.2L1760.9,626.2L1762.9,626.1L1764.9,626.1L1766.9,626.0L1768.9,625.9L1770.9,625.9L1772.9,625.8L1774.9,625.8L1776.9,625.7L1778.3,625.7M1823.4,623.4L1824.9,623.3L1826.9,623.2L1828.9,623.2L1830.9,623.1L1832.9,623.0L1834.9,623.0L1836.9,622.9L1838.9,622.8L1840.9,622.8L1842.9,622.7L1844.9,622.6L1846.9,622.6L1848.9,622.5L1850.9,622.4L1852.9,622.3L1854.9,622.2L1856.9,622.1L1857.9,622.1M1902.7,618.3L1904.7,618.1L1906.7,617.9L1908.7,617.7L1910.7,617.4L1912.7,617.2L1914.7,617.0L1916.6,616.8L1918.6,616.5L1920.6,616.3L1922.6,616.1L1924.6,615.8L1926.6,615.6L1928.6,615.4L1930.5,615.1L1932.5,614.9L1934.5,614.6L1936.5,614.3L1937.0,614.3M1981.5,607.6L1982.0,607.5L1984.0,607.2L1986.0,606.8L1987.9,606.5L1989.9,606.2L1991.9,605.9L1993.9,605.5L1995.8,605.2L1997.8,604.9L1999.8,604.5L2001.7,604.2L2003.7,603.8L2005.7,603.5L2007.7,603.2L2009.6,602.8L2011.6,602.5L2013.6,602.1L2015.5,601.8M2059.6,593.0L2060.7,592.8L2062.7,592.4L2064.6,592.0L2066.6,591.6L2068.5,591.1L2070.5,590.7L2072.4,590.3L2074.4,589.9L2076.3,589.4L2078.3,589.0L2080.2,588.5L2082.2,588.1L2084.1,587.6L2086.1,587.2L2088.0,586.7L2090.0,586.3L2091.9,585.8L2093.3,585.5M2136.9,574.2L2138.4,573.8L2140.4,573.3L2142.3,572.8L2144.2,572.3L2146.2,571.8L2148.1,571.3L2150.0,570.8L2152.0,570.3L2153.9,569.8L2155.9,569.3L2157.8,568.8L2159.7,568.3L2161.7,567.8L2163.6,567.3L2165.5,566.7L2167.5,566.2L2169.4,565.7L2170.2,565.5" fill="none" stroke="#7f7f7f" stroke-width="10.8" stroke-linecap="round" stroke-linejoin="round"/>
<line x1="322.6" y1="592.3" x2="2220.5" y2="592.3" stroke="#000" stroke-width="2.6"/>
<path d="M322.3,584.0L325.1,584.0L326.6,584.0L328.4,584.0L330.3,584.0L332.3,584.0L334.3,584.0L336.3,584.0L338.3,584.0L340.3,584.0L342.3,584.0L343.5,584.0M367.0,584.0L368.3,584.0L370.3,584.0L372.3,584.0L374.3,584.0L376.3,584.0L378.3,584.0L380.3,584.0L382.3,584.0L384.3,584.0L386.3,584.0L388.3,584.0L390.3,584.0L392.3,584.0L394.3,584.0L396.3,584.0L398.3,584.0L400.3,584.0L402.4,584.1L404.4,584.1L406.1,584.1M429.6,584.1L430.4,584.1L432.4,584.1L434.4,584.1L436.4,584.1L438.4,584.1L440.4,584.1L442.4,584.1L444.4,584.1L446.4,584.1L448.4,584.1L450.4,584.1L452.4,584.1L454.4,584.1L456.4,584.1L458.4,584.1L460.4,584.1L462.4,584.1L464.4,584.1L466.4,584.1L468.4,584.1L468.7,584.1M492.2,584.2L492.4,584.2L494.4,584.2L496.4,584.2L498.4,584.2L500.4,584.2L502.4,584.2L504.4,584.2L506.4,584.2L508.4,584.2L510.4,584.2L512.4,584.2L514.4,584.2L516.4,584.2L518.4,584.2L520.4,584.2L522.4,584.2L524.4,584.3L526.4,584.3L528.4,584.3L530.4,584.3L531.3,584.3M554.8,584.3L556.4,584.3L558.4,584.3L560.5,584.4L562.5,584.4L564.5,584.4L566.5,584.4L568.5,584.4L570.5,584.4L572.5,584.4L574.5,584.4L576.5,584.4L578.5,584.4L580.5,584.4L582.5,584.4L584.5,584.4L586.5,584.4L588.5,584.5L590.5,584.5L592.5,584.5L593.9,584.5M617.4,584.6L618.5,584.6L620.5,584.6L622.5,584.6L624.5,584.6L626.5,584.6L628.5,584.6L630.5,584.6L632.5,584.6L634.5,584.7L636.5,584.7L638.5,584.7L640.5,584.7L642.5,584.7L644.5,584.7L646.5,584.7L648.5,584.7L650.5,584.7L652.5,584.7L654.5,584.8L656.5,584.8M680.0,584.9L680.5,584.9L682.5,584.9L684.5,584.9L686.5,584.9L688.5,584.9L690.5,584.9L692.5,585.0L694.5,585.0L696.5,585.0L698.5,585.0L700.5,585.0L702.5,585.0L704.5,585.0L706.5,585.0L708.5,585.0L710.5,585.1L712.5,585.1L714.6,585.1L716.6,585.1L718.6,585.1L719.1,585.1M742.6,585.2L744.6,585.2L746.6,585.3L748.6,585.3L750.6,585.3L752.6,585.3L754.6,585.3L756.6,585.3L758.6,585.4L760.6,585.4L762.6,585.4L764.6,585.4L766.6,585.5L768.6,585.5L770.6,585.5L772.6,585.5L774.6,585.6L776.6,585.6L778.6,585.6L780.6,585.7L781.7,585.7M805.1,587.5L806.5,587.5L808.5,587.7L810.5,587.8L812.5,587.9L814.5,588.0L816.5,588.0L818.5,588.1L820.5,588.2L822.5,588.3L824.5,588.4L826.5,588.5L828.5,588.5L830.5,588.6L832.5,588.7L834.5,588.8L836.5,588.9L838.5,588.9L840.5,589.0L842.5,589.1L844.2,589.2M867.7,590.2L868.5,590.3L870.5,590.4L872.5,590.6L874.5,590.8L876.5,591.0L878.5,591.2L880.5,591.4L882.4,591.6L884.4,591.9L886.4,592.1L888.4,592.3L890.4,592.6L892.4,592.8L894.4,593.0L896.4,593.2L898.4,593.4L900.4,593.6L902.3,593.8L904.3,594.0L906.3,594.1L906.6,594.2M930.0,595.8L930.3,595.8L932.2,596.2L934.2,596.5L936.1,597.0L938.1,597.4L940.0,597.9L942.0,598.4L943.9,598.9L945.9,599.4L947.8,599.9L949.8,600.4L951.7,600.9L953.7,601.3L955.6,601.8L957.5,602.3L959.5,602.8L961.4,603.3L963.4,603.8L965.3,604.3L967.2,604.8L968.0,605.0M990.5,611.8L992.1,612.4L994.0,613.1L995.8,613.8L997.7,614.6L999.5,615.4L1001.4,616.2L1003.2,616.9L1005.0,617.7L1006.9,618.5L1008.7,619.3L1010.6,620.0L1012.5,620.8L1014.3,621.6L1016.2,622.3L1018.0,623.1L1019.9,623.8L1021.7,624.6L1023.5,625.4L1025.4,626.3L1026.5,626.9M1046.5,639.2L1047.6,639.8L1049.3,640.9L1051.0,641.9L1052.7,643.0L1054.4,644.1L1056.1,645.2L1057.7,646.4L1059.2,647.6L1060.7,648.8L1062.2,650.2L1063.6,651.6L1064.9,653.0L1066.2,654.6L1067.5,656.1L1068.8,657.7L1070.0,659.3L1071.3,660.9L1072.4,662.5L1073.6,664.1L1074.7,665.7M1086.6,685.9L1086.9,686.5L1087.8,688.2L1088.7,690.0L1089.6,691.8L1090.5,693.6L1091.4,695.4L1092.2,697.2L1093.0,699.1L1093.9,700.9L1094.7,702.7L1095.5,704.6L1096.3,706.4L1097.1,708.2L1097.9,710.1L1098.7,711.9L1099.5,713.7L1100.3,715.6L1101.1,717.4L1101.8,719.3L1102.6,721.1L1102.8,721.5M1111.8,743.2L1111.8,743.3L1112.5,745.2L1113.3,747.0L1114.0,748.9L1114.7,750.8L1115.4,752.6L1116.1,754.5L1116.8,756.4L1117.5,758.3L1118.2,760.1L1118.9,762.0L1119.5,763.9L1120.2,765.8L1120.9,767.7L1121.5,769.6L1122.2,771.5L1122.8,773.4L1123.4,775.3L1124.1,777.2L1124.7,779.1L1125.0,780.0M1131.6,802.5L1132.0,804.0L1132.6,806.0L1133.1,807.9L1133.6,809.8L1134.1,811.8L1134.6,813.7L1135.2,815.6L1135.7,817.6L1136.2,819.5L1136.7,821.4L1137.2,823.4L1137.7,825.3L1138.2,827.2L1138.7,829.2L1139.2,831.1L1139.7,833.1L1140.2,835.0L1140.6,836.9L1141.1,838.9L1141.5,840.4M1146.5,863.3L1146.7,864.3L1147.0,866.3L1147.4,868.2L1147.8,870.2L1148.2,872.2L1148.6,874.1L1149.0,876.1L1149.4,878.1L1149.9,880.0L1150.3,881.9L1150.8,883.9L1151.3,885.8L1151.8,887.7L1152.4,889.7L1153.0,891.6L1153.6,893.5L1154.2,895.4L1154.7,897.3L1155.2,899.3L1155.7,901.2L1155.7,901.3M1160.6,924.3L1160.7,924.6L1161.0,926.6L1161.4,928.5L1161.8,930.5L1162.1,932.5L1162.5,934.5L1162.8,936.4L1163.2,938.4L1163.5,940.4L1163.8,942.3L1164.2,944.3L1164.5,946.3L1164.8,948.3L1165.1,950.3L1165.5,952.2L1165.8,954.2L1166.1,956.2L1166.4,958.2L1166.7,960.2L1167.0,962.2L1167.1,962.8M1170.5,986.1L1170.8,988.0L1171.1,989.9L1171.3,991.9L1171.6,993.9L1171.9,995.9L1172.2,997.9L1172.5,999.8L1172.8,1001.8L1173.0,1003.8L1173.3,1005.8L1173.6,1007.8L1173.9,1009.7L1174.1,1011.7L1174.4,1013.7L1174.7,1015.7L1174.9,1017.7L1175.2,1019.7L1175.5,1021.6L1175.7,1023.6L1175.9,1024.8M1178.8,1048.1L1178.9,1049.5L1179.2,1051.4L1179.4,1053.4L1179.6,1055.4L1179.9,1057.4L1180.1,1059.4L1180.3,1061.4L1180.6,1063.4L1180.8,1065.4L1181.1,1067.3L1181.3,1069.3L1181.5,1071.3L1181.8,1073.3L1182.0,1075.3L1182.2,1077.3L1182.5,1079.3L1182.7,1081.3L1183.0,1083.2L1183.2,1085.2L1183.4,1087.0M1186.3,1110.3L1186.4,1111.0L1186.7,1113.0L1186.9,1115.0L1187.2,1117.0L1187.5,1119.0L1187.7,1121.0L1188.0,1123.0L1188.2,1124.9L1188.5,1126.9L1188.8,1128.9L1189.0,1130.9L1189.3,1132.9L1189.6,1134.9L1189.8,1136.8L1190.1,1138.8L1190.4,1140.8L1190.6,1142.8L1190.9,1144.8L1191.2,1146.8L1191.4,1148.8L1191.5,1149.0M1194.4,1172.4L1194.5,1172.6L1194.7,1174.6L1194.9,1176.6L1195.2,1178.5L1195.4,1180.5L1195.6,1182.5L1195.9,1184.5L1196.1,1186.5L1196.3,1188.5L1196.5,1190.5L1196.7,1192.5L1196.9,1194.4L1197.1,1196.4L1197.3,1198.4L1197.5,1200.4L1197.7,1202.4L1197.9,1204.4L1198.1,1206.4L1198.3,1208.4L1198.4,1210.4L1198.5,1211.2M1200.4,1234.7L1200.5,1236.3L1200.7,1238.3L1200.8,1240.3L1201.0,1242.3L1201.2,1244.3L1201.4,1246.3L1201.5,1248.3L1201.7,1250.3L1201.9,1252.3L1202.1,1254.2L1202.4,1256.2L1202.6,1258.2L1202.8,1260.2L1203.0,1262.2L1203.3,1264.2L1203.5,1266.2L1203.7,1268.2L1204.0,1270.2L1204.2,1272.1L1204.4,1273.6M1207.3,1296.9L1207.4,1298.0L1207.6,1300.0L1207.9,1301.9L1208.1,1303.9L1208.3,1305.9L1208.6,1307.9L1208.8,1309.9L1209.0,1311.9L1209.2,1313.9L1209.5,1315.9L1209.7,1317.9L1209.9,1319.8L1210.1,1321.8L1210.4,1323.8L1210.6,1325.8L1210.9,1327.8L1211.1,1329.8L1211.3,1331.8L1211.6,1333.8L1211.8,1335.7M1215.3,1358.9L1215.4,1359.5L1215.7,1361.5L1216.1,1363.4L1216.4,1365.4L1216.8,1367.4L1217.2,1369.3L1217.5,1371.3L1217.9,1373.3L1218.3,1375.2L1218.7,1377.2L1219.1,1379.2L1219.5,1381.1L1220.0,1383.1L1220.4,1385.0L1220.8,1387.0L1221.3,1388.9L1221.8,1390.9L1222.2,1392.8L1222.7,1394.8L1223.2,1396.7L1223.4,1397.2M1231.2,1419.3L1231.3,1419.5L1232.2,1421.2L1233.3,1422.9L1234.4,1424.5L1235.7,1426.0L1237.1,1427.3L1238.6,1428.6L1240.3,1429.7L1242.0,1430.6L1243.8,1431.4L1245.7,1432.1L1247.6,1432.6L1249.6,1432.9L1251.6,1433.2L1253.6,1433.2L1255.5,1433.2L1257.5,1432.9L1259.5,1432.6L1261.4,1432.1L1263.3,1431.5L1264.5,1431.1M1283.9,1418.1L1284.9,1417.2L1286.4,1415.9L1287.8,1414.5L1289.3,1413.1L1290.7,1411.7L1292.1,1410.3L1293.5,1408.8L1294.9,1407.4L1296.3,1405.9L1297.6,1404.4L1299.0,1403.0L1300.4,1401.5L1301.7,1400.0L1303.1,1398.5L1304.4,1397.1L1305.7,1395.5L1307.0,1394.0L1308.3,1392.5L1309.5,1390.9L1310.6,1389.6M1323.3,1369.8L1323.7,1369.1L1324.6,1367.3L1325.4,1365.5L1326.3,1363.7L1327.1,1361.9L1327.9,1360.1L1328.7,1358.3L1329.5,1356.4L1330.3,1354.5L1331.0,1352.7L1331.7,1350.8L1332.5,1348.9L1333.2,1347.0L1333.8,1345.2L1334.5,1343.3L1335.1,1341.4L1335.8,1339.5L1336.4,1337.6L1337.0,1335.7L1337.6,1333.8L1337.7,1333.5M1343.9,1310.8L1343.9,1310.6L1344.4,1308.6L1344.9,1306.7L1345.5,1304.8L1346.0,1302.8L1346.5,1300.9L1347.0,1299.0L1347.5,1297.0L1348.0,1295.1L1348.5,1293.2L1349.0,1291.2L1349.5,1289.3L1350.0,1287.3L1350.5,1285.4L1351.0,1283.5L1351.5,1281.5L1352.0,1279.6L1352.5,1277.6L1352.9,1275.7L1353.4,1273.7L1353.5,1273.0M1358.5,1250.0L1358.8,1248.3L1359.2,1246.4L1359.6,1244.4L1360.0,1242.4L1360.4,1240.5L1360.8,1238.5L1361.2,1236.5L1361.6,1234.6L1362.0,1232.6L1362.3,1230.6L1362.7,1228.7L1363.1,1226.7L1363.5,1224.7L1363.8,1222.8L1364.2,1220.8L1364.6,1218.8L1364.9,1216.9L1365.3,1214.9L1365.6,1212.9L1365.9,1211.6M1369.9,1188.4L1370.0,1187.3L1370.4,1185.3L1370.7,1183.3L1371.0,1181.4L1371.3,1179.4L1371.6,1177.4L1371.9,1175.4L1372.2,1173.4L1372.5,1171.5L1372.8,1169.5L1373.1,1167.5L1373.4,1165.5L1373.7,1163.6L1374.0,1161.6L1374.3,1159.6L1374.5,1157.6L1374.8,1155.6L1375.1,1153.7L1375.4,1151.7L1375.6,1149.8M1378.6,1126.5L1378.7,1125.9L1378.9,1123.9L1379.2,1121.9L1379.4,1119.9L1379.7,1117.9L1379.9,1115.9L1380.2,1113.9L1380.4,1112.0L1380.7,1110.0L1380.9,1108.0L1381.2,1106.0L1381.4,1104.0L1381.7,1102.0L1382.0,1100.0L1382.2,1098.1L1382.5,1096.1L1382.7,1094.1L1383.0,1092.1L1383.3,1090.1L1383.5,1088.1L1383.6,1087.7M1386.7,1064.4L1386.7,1064.3L1387.0,1062.4L1387.3,1060.4L1387.5,1058.4L1387.8,1056.4L1388.1,1054.4L1388.4,1052.4L1388.6,1050.5L1388.9,1048.5L1389.2,1046.5L1389.4,1044.5L1389.7,1042.5L1390.0,1040.5L1390.3,1038.6L1390.5,1036.6L1390.8,1034.6L1391.1,1032.6L1391.3,1030.6L1391.6,1028.6L1391.9,1026.7L1392.0,1025.6M1395.3,1002.4L1395.5,1000.9L1395.8,998.9L1396.0,996.9L1396.3,994.9L1396.6,993.0L1396.9,991.0L1397.2,989.0L1397.4,987.0L1397.7,985.0L1398.0,983.1L1398.3,981.1L1398.6,979.1L1398.9,977.1L1399.1,975.1L1399.4,973.2L1399.7,971.2L1400.0,969.2L1400.3,967.2L1400.6,965.2L1400.8,963.7M1404.2,940.4L1404.3,939.5L1404.6,937.5L1404.9,935.5L1405.2,933.5L1405.5,931.6L1405.8,929.6L1406.0,927.6L1406.3,925.6L1406.6,923.6L1406.9,921.7L1407.2,919.7L1407.5,917.7L1407.8,915.7L1408.0,913.7L1408.3,911.8L1408.6,909.8L1408.9,907.8L1409.2,905.8L1409.5,903.8L1409.7,901.9L1409.8,901.7M1413.0,878.4L1413.1,878.1L1413.3,876.1L1413.6,874.1L1413.9,872.1L1414.2,870.1L1414.5,868.2L1414.8,866.2L1415.1,864.2L1415.4,862.2L1415.7,860.3L1416.0,858.3L1416.3,856.3L1416.6,854.3L1416.9,852.3L1417.3,850.4L1417.6,848.4L1417.9,846.4L1418.2,844.4L1418.5,842.5L1418.8,840.5L1419.0,839.8M1423.0,816.6L1423.3,814.8L1423.7,812.9L1424.0,810.9L1424.4,808.9L1424.7,806.9L1425.1,805.0L1425.5,803.0L1425.8,801.0L1426.2,799.0L1426.6,797.1L1427.0,795.1L1427.4,793.1L1427.8,791.2L1428.3,789.2L1428.7,787.3L1429.1,785.3L1429.6,783.4L1430.1,781.5L1430.5,779.5L1430.9,778.3M1438.2,756.0L1438.7,754.8L1439.5,753.0L1440.3,751.1L1441.1,749.3L1441.9,747.5L1442.7,745.7L1443.6,743.9L1444.5,742.1L1445.4,740.3L1446.3,738.6L1447.3,736.8L1448.3,735.1L1449.3,733.4L1450.4,731.6L1451.4,729.9L1452.5,728.2L1453.6,726.5L1454.7,724.9L1455.8,723.2L1456.8,721.8M1471.1,703.1L1471.6,702.4L1473.0,701.0L1474.3,699.5L1475.7,698.0L1477.1,696.6L1478.5,695.2L1479.9,693.9L1481.4,692.5L1482.9,691.2L1484.4,689.9L1485.9,688.7L1487.5,687.4L1489.1,686.1L1490.7,684.9L1492.3,683.7L1493.9,682.5L1495.5,681.3L1497.1,680.1L1498.8,678.9L1500.4,677.8L1500.6,677.6M1520.1,664.6L1520.4,664.5L1522.1,663.4L1523.8,662.3L1525.4,661.3L1527.1,660.2L1528.8,659.1L1530.5,658.1L1532.2,657.0L1533.9,656.0L1535.6,654.9L1537.3,653.9L1539.1,652.8L1540.8,651.8L1542.5,650.7L1544.2,649.7L1545.9,648.7L1547.6,647.6L1549.3,646.6L1551.0,645.5L1552.7,644.5L1553.4,644.1M1573.3,631.5L1574.7,630.5L1576.4,629.5L1578.0,628.4L1579.7,627.3L1581.4,626.2L1583.1,625.1L1584.8,624.0L1586.4,622.9L1588.1,621.8L1589.8,620.7L1591.5,619.6L1593.2,618.6L1594.8,617.5L1596.5,616.4L1598.2,615.3L1599.9,614.2L1601.5,613.1L1603.2,612.0L1604.9,610.9L1606.0,610.1M1626.6,598.7L1627.7,598.2L1629.5,597.4L1631.4,596.7L1633.2,596.0L1635.1,595.4L1637.0,594.8L1638.9,594.3L1640.9,593.8L1642.8,593.4L1644.8,592.9L1646.8,592.6L1648.7,592.2L1650.7,591.9L1652.7,591.7L1654.7,591.5L1656.7,591.3L1658.7,591.2L1660.7,591.1L1662.7,591.0L1664.6,590.9M1688.1,590.6L1688.7,590.6L1690.7,590.6L1692.7,590.6L1694.7,590.6L1696.7,590.6L1698.7,590.6L1700.7,590.6L1702.7,590.6L1704.7,590.6L1706.7,590.6L1708.7,590.6L1710.7,590.6L1712.7,590.6L1714.7,590.6L1716.7,590.6L1718.7,590.6L1720.7,590.6L1722.7,590.6L1724.7,590.6L1726.7,590.6L1727.2,590.6M1750.7,590.4L1750.7,590.4L1752.8,590.4L1754.8,590.4L1756.8,590.4L1758.8,590.3L1760.8,590.3L1762.8,590.2L1764.8,590.2L1766.8,590.2L1768.8,590.1L1770.8,590.1L1772.8,590.0L1774.8,590.0L1776.8,589.9L1778.8,589.9L1780.8,589.8L1782.8,589.8L1784.8,589.7L1786.8,589.7L1788.8,589.6L1789.8,589.6M1813.2,588.5L1814.8,588.4L1816.7,588.3L1818.7,588.2L1820.7,588.0L1822.7,587.9L1824.7,587.8L1826.7,587.7L1828.7,587.6L1830.7,587.5L1832.7,587.4L1834.7,587.2L1836.7,587.1L1838.7,587.0L1840.7,586.9L1842.7,586.8L1844.7,586.7L1846.7,586.6L1848.7,586.5L1850.7,586.4L1852.1,586.3M1875.4,584.9L1876.7,584.8L1878.7,584.7L1880.7,584.6L1882.7,584.5L1884.7,584.3L1886.7,584.2L1888.7,584.1L1890.7,584.0L1892.7,583.8L1894.7,583.7L1896.7,583.6L1898.7,583.4L1900.7,583.3L1902.7,583.2L1904.7,583.0L1906.6,582.9L1908.6,582.8L1910.6,582.6L1912.6,582.5L1914.1,582.4M1937.4,580.7L1938.6,580.6L1940.6,580.5L1942.6,580.3L1944.6,580.1L1946.6,580.0L1948.6,579.8L1950.6,579.6L1952.5,579.4L1954.5,579.2L1956.5,579.1L1958.5,578.9L1960.5,578.7L1962.5,578.5L1964.5,578.3L1966.5,578.1L1968.5,577.9L1970.5,577.6L1972.5,577.4L1974.4,577.2L1976.0,577.0M1999.2,574.1L2000.3,574.0L2002.3,573.7L2004.2,573.5L2006.2,573.2L2008.2,572.9L2010.2,572.6L2012.2,572.3L2014.1,572.1L2016.1,571.8L2018.1,571.5L2020.1,571.2L2022.1,570.9L2024.0,570.6L2026.0,570.2L2028.0,569.9L2030.0,569.6L2031.9,569.2L2033.9,568.9L2035.9,568.6L2037.6,568.3M2060.5,563.9L2061.4,563.7L2063.4,563.3L2065.4,562.9L2067.3,562.6L2069.3,562.2L2071.3,561.8L2073.2,561.4L2075.2,561.0L2077.2,560.7L2079.1,560.3L2081.1,559.9L2083.1,559.5L2085.0,559.2L2087.0,558.8L2089.0,558.4L2090.9,558.0L2092.9,557.7L2094.9,557.3L2096.8,556.9L2098.6,556.5M2121.6,552.1L2122.4,551.9L2124.3,551.5L2126.3,551.1L2128.2,550.8L2130.2,550.4L2132.2,550.0L2134.1,549.6L2136.1,549.2L2138.1,548.9L2140.0,548.5L2142.0,548.1L2144.0,547.7L2145.9,547.4L2147.9,547.0L2149.9,546.6L2151.8,546.2L2153.8,545.9L2155.8,545.5L2157.7,545.1L2159.7,544.8L2160.0,544.7M2183.1,540.3L2183.3,540.3L2185.3,539.9L2187.2,539.6L2189.2,539.2L2191.2,538.8L2193.1,538.5L2195.0,538.1L2196.8,537.8L2198.3,537.5L2201.0,537.0" fill="none" stroke="#000" stroke-width="5.4" stroke-linecap="round" stroke-linejoin="round"/>
</g>
<g stroke="#595959" stroke-width="2.6" fill="none" stroke-linecap="butt">
<line x1="322.6" y1="73.55" x2="322.6" y2="1651.30"/>
<line x1="302.6" y1="1631.7" x2="2220.10" y2="1631.7"/>
<line x1="302.6" y1="74.85" x2="322.6" y2="74.85"/>
<line x1="306.6" y1="204.59" x2="322.6" y2="204.59"/>
<line x1="302.6" y1="334.33" x2="322.6" y2="334.33"/>
<line x1="306.6" y1="464.06" x2="322.6" y2="464.06"/>
<line x1="302.6" y1="593.80" x2="322.6" y2="593.80"/>
<line x1="306.6" y1="723.54" x2="322.6" y2="723.54"/>
<line x1="302.6" y1="853.28" x2="322.6" y2="853.28"/>
<line x1="306.6" y1="983.01" x2="322.6" y2="983.01"/>
<line x1="302.6" y1="1112.75" x2="322.6" y2="1112.75"/>
<line x1="306.6" y1="1242.49" x2="322.6" y2="1242.49"/>
<line x1="302.6" y1="1372.22" x2="322.6" y2="1372.22"/>
<line x1="306.6" y1="1501.96" x2="322.6" y2="1501.96"/>
<line x1="559.62" y1="1631.7" x2="559.62" y2="1647.70"/>
<line x1="796.65" y1="1631.7" x2="796.65" y2="1651.30"/>
<line x1="1033.68" y1="1631.7" x2="1033.68" y2="1647.70"/>
<line x1="1270.70" y1="1631.7" x2="1270.70" y2="1651.30"/>
<line x1="1507.73" y1="1631.7" x2="1507.73" y2="1647.70"/>
<line x1="1744.75" y1="1631.7" x2="1744.75" y2="1651.30"/>
<line x1="1981.78" y1="1631.7" x2="1981.78" y2="1647.70"/>
<line x1="2218.80" y1="1631.7" x2="2218.80" y2="1651.30"/>
</g>
<text transform="translate(200.95,93.85) scale(1.0000,1)" font-size="58" font-weight="normal" fill="#000">40</text>
<text transform="translate(200.95,353.33) scale(1.0000,1)" font-size="58" font-weight="normal" fill="#000">20</text>
<text transform="translate(233.21,612.80) scale(1.0000,1)" font-size="58" font-weight="normal" fill="#000">0</text>
<text transform="translate(181.64,872.28) scale(1.0000,1)" font-size="58" font-weight="normal" fill="#000">-20</text>
<text transform="translate(181.64,1131.75) scale(1.0000,1)" font-size="58" font-weight="normal" fill="#000">-40</text>
<text transform="translate(181.64,1391.22) scale(1.0000,1)" font-size="58" font-weight="normal" fill="#000">-60</text>
<text transform="translate(181.64,1650.70) scale(1.0000,1)" font-size="58" font-weight="normal" fill="#000">-80</text>
<text transform="translate(273.89,1731.40) scale(1.0000,1)" font-size="58" font-weight="normal" fill="#000">200</text>
<text transform="translate(748.29,1731.40) scale(1.0000,1)" font-size="58" font-weight="normal" fill="#000">300</text>
<text transform="translate(1222.78,1731.40) scale(1.0000,1)" font-size="58" font-weight="normal" fill="#000">400</text>
<text transform="translate(1696.34,1731.40) scale(1.0000,1)" font-size="58" font-weight="normal" fill="#000">500</text>
<text transform="translate(2170.07,1731.40) scale(1.0000,1)" font-size="58" font-weight="normal" fill="#000">600</text>
<text transform="translate(1239.09,1836.10) scale(0.9634,1)" font-size="65.5" font-weight="bold" fill="#000">Temperature</text>
<text transform="translate(1633.75,1836.10) scale(0.9051,1)" font-size="65.5" font-weight="bold" fill="#000">(°C)</text>
<text transform="translate(86.60,1369.70) rotate(-90) scale(0.9781,1)" font-size="65.5" font-weight="bold" fill="#000">Δ(M(T))</text>
<text transform="translate(86.60,1123.12) rotate(-90) scale(1.1942,1)" font-size="65.5" font-weight="bold" fill="#000">:</text>
<text transform="translate(86.60,1089.29) rotate(-90) scale(0.9344,1)" font-size="65.5" font-weight="bold" fill="#000">Mass</text>
<text transform="translate(86.60,916.52) rotate(-90) scale(0.9363,1)" font-size="65.5" font-weight="bold" fill="#000">difference</text>
<text transform="translate(86.60,609.88) rotate(-90) scale(1.0354,1)" font-size="65.5" font-weight="bold" fill="#000">(wt.%)</text>
<text transform="translate(590.95,920.30) scale(0.9073,1)" font-size="71.2" font-weight="normal" fill="#000">PA</text>
<text transform="translate(677.39,937.10) scale(1.0179,1)" font-size="47.7" font-weight="normal" fill="#000">80</text>
<text transform="translate(731.91,920.30) scale(0.9780,1)" font-size="71.2" font-weight="normal" fill="#000">-</text>
<text transform="translate(755.62,920.30) scale(0.9112,1)" font-size="71.2" font-weight="normal" fill="#000">AP</text>
<text transform="translate(841.82,937.10) scale(1.0145,1)" font-size="47.7" font-weight="normal" fill="#000">20</text>
<text transform="translate(590.95,1037.30) scale(0.9073,1)" font-size="71.2" font-weight="normal" fill="#000">PA</text>
<text transform="translate(677.39,1054.10) scale(1.0179,1)" font-size="47.7" font-weight="normal" fill="#000">80</text>
<text transform="translate(731.91,1037.30) scale(0.9780,1)" font-size="71.2" font-weight="normal" fill="#000">-</text>
<text transform="translate(756.16,1037.30) scale(0.8715,1)" font-size="71.2" font-weight="normal" fill="#000">KL</text>
<text transform="translate(830.57,1054.10) scale(1.0145,1)" font-size="47.7" font-weight="normal" fill="#000">20</text>
<text transform="translate(590.95,1153.90) scale(0.9073,1)" font-size="71.2" font-weight="normal" fill="#000">PA</text>
<text transform="translate(677.39,1170.70) scale(1.0179,1)" font-size="47.7" font-weight="normal" fill="#000">80</text>
<text transform="translate(731.91,1153.90) scale(0.9780,1)" font-size="71.2" font-weight="normal" fill="#000">-</text>
<text transform="translate(756.16,1153.90) scale(0.8715,1)" font-size="71.2" font-weight="normal" fill="#000">KL</text>
<text transform="translate(830.65,1170.70) scale(0.9910,1)" font-size="47.7" font-weight="normal" fill="#000">05</text>
<text transform="translate(884.32,1153.90) scale(1.0067,1)" font-size="71.2" font-weight="normal" fill="#000">-</text>
<text transform="translate(909.37,1153.90) scale(0.9057,1)" font-size="71.2" font-weight="normal" fill="#000">AP</text>
<text transform="translate(996.46,1170.70) scale(0.9753,1)" font-size="47.7" font-weight="normal" fill="#000">15</text>
<text transform="translate(590.95,1270.40) scale(0.9073,1)" font-size="71.2" font-weight="normal" fill="#000">PA</text>
<text transform="translate(677.39,1287.20) scale(1.0179,1)" font-size="47.7" font-weight="normal" fill="#000">80</text>
<text transform="translate(731.91,1270.40) scale(0.9780,1)" font-size="71.2" font-weight="normal" fill="#000">-</text>
<text transform="translate(756.16,1270.40) scale(0.8715,1)" font-size="71.2" font-weight="normal" fill="#000">KL</text>
<text transform="translate(830.64,1287.20) scale(0.9991,1)" font-size="47.7" font-weight="normal" fill="#000">07</text>
<text transform="translate(884.32,1270.40) scale(1.0067,1)" font-size="71.2" font-weight="normal" fill="#000">-</text>
<text transform="translate(909.37,1270.40) scale(0.9057,1)" font-size="71.2" font-weight="normal" fill="#000">AP</text>
<text transform="translate(996.45,1287.20) scale(0.9772,1)" font-size="47.7" font-weight="normal" fill="#000">13</text>
<text transform="translate(590.95,1387.60) scale(0.9073,1)" font-size="71.2" font-weight="normal" fill="#000">PA</text>
<text transform="translate(677.39,1404.40) scale(1.0179,1)" font-size="47.7" font-weight="normal" fill="#000">80</text>
<text transform="translate(731.91,1387.60) scale(0.9780,1)" font-size="71.2" font-weight="normal" fill="#000">-</text>
<text transform="translate(756.16,1387.60) scale(0.8715,1)" font-size="71.2" font-weight="normal" fill="#000">KL</text>
<text transform="translate(832.45,1404.40) scale(0.9777,1)" font-size="47.7" font-weight="normal" fill="#000">10</text>
<text transform="translate(884.32,1387.60) scale(1.0067,1)" font-size="71.2" font-weight="normal" fill="#000">-</text>
<text transform="translate(909.37,1387.60) scale(0.9057,1)" font-size="71.2" font-weight="normal" fill="#000">AP</text>
<text transform="translate(996.37,1404.40) scale(0.9987,1)" font-size="47.7" font-weight="normal" fill="#000">10</text>
<line x1="448.5" y1="895.8" x2="546.7" y2="895.8" stroke="#0cc00c" stroke-width="7.4" stroke-linecap="round"/>
<line x1="448.5" y1="1017.2" x2="546.7" y2="1017.2" stroke="#c566f9" stroke-width="7" stroke-linecap="round"/>
<circle cx="448.6" cy="1138.4" r="8.9" fill="#d9d9d9"/>
<circle cx="486.6" cy="1138.4" r="8.9" fill="#d9d9d9"/>
<circle cx="524.6" cy="1138.4" r="8.9" fill="#d9d9d9"/>
<g stroke="#7f7f7f" stroke-width="10.5" stroke-linecap="round"><line x1="447.9" y1="1257.5" x2="482.8" y2="1257.5"/><line x1="527.7" y1="1257.5" x2="547.2" y2="1257.5"/></g>
<g stroke="#000" stroke-width="5" stroke-linecap="round"><line x1="446.8" y1="1378" x2="486.8" y2="1378"/><line x1="510" y1="1378" x2="548" y2="1378"/></g>
</svg>
</body></html>
